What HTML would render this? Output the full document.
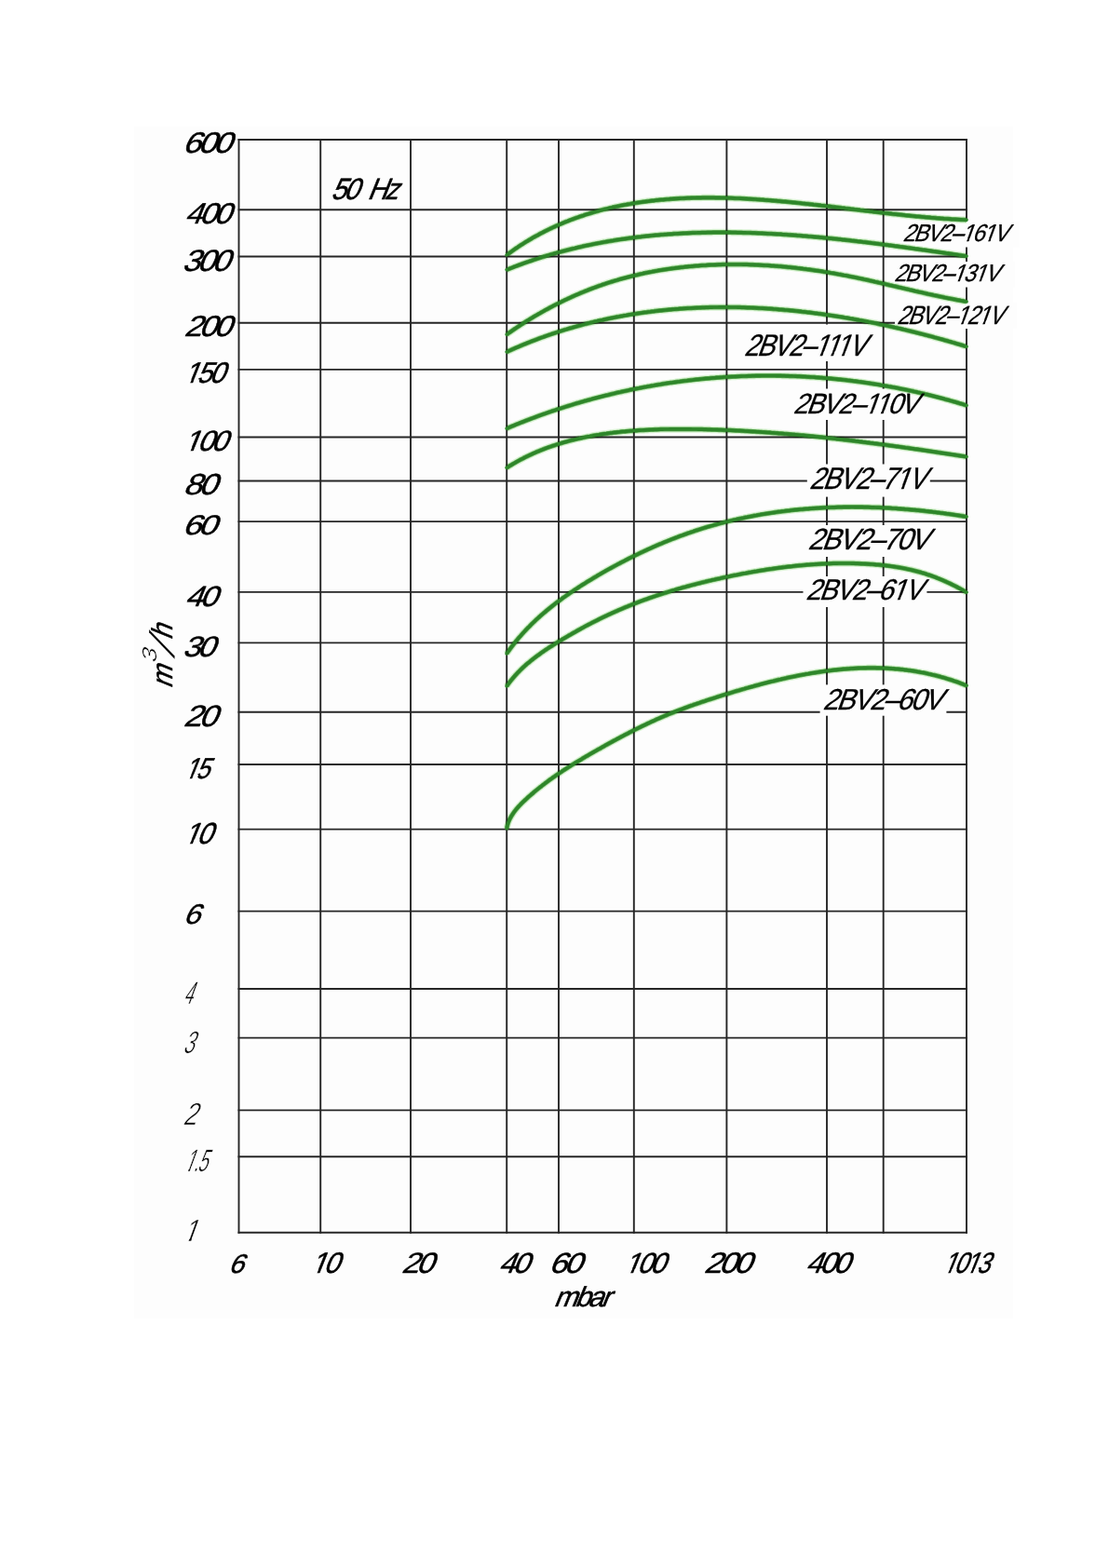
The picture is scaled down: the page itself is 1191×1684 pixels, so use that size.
<!DOCTYPE html><html><head><meta charset="utf-8"><title>2BV2 50 Hz</title><style>html,body{margin:0;padding:0;background:#fff;width:1191px;height:1684px;overflow:hidden}svg{display:block}text{font-family:"Liberation Sans",Arial,sans-serif;font-size:100px;fill:#000}</style></head><body><svg width="1191" height="1684" viewBox="0 0 1191 1684"><rect x="144" y="136" width="944" height="1280" fill="#fdfdfd"/><g stroke="#262626" stroke-width="1.9" fill="none" stroke-linecap="square"><line x1="256.50" y1="150.00" x2="256.50" y2="1323.70"/><line x1="344.20" y1="150.00" x2="344.20" y2="1323.70"/><line x1="441.00" y1="150.00" x2="441.00" y2="1323.70"/><line x1="544.20" y1="150.00" x2="544.20" y2="1323.70"/><line x1="600.00" y1="150.00" x2="600.00" y2="1323.70"/><line x1="680.80" y1="150.00" x2="680.80" y2="1323.70"/><line x1="780.40" y1="150.00" x2="780.40" y2="1323.70"/><line x1="888.00" y1="150.00" x2="888.00" y2="1323.70"/><line x1="948.70" y1="150.00" x2="948.70" y2="1323.70"/><line x1="1038.00" y1="150.00" x2="1038.00" y2="1323.70"/><line x1="256.50" y1="150.00" x2="1038.00" y2="150.00"/><line x1="256.50" y1="225.20" x2="1038.00" y2="225.20"/><line x1="256.50" y1="275.50" x2="1038.00" y2="275.50"/><line x1="256.50" y1="346.80" x2="1038.00" y2="346.80"/><line x1="256.50" y1="396.90" x2="1038.00" y2="396.90"/><line x1="256.50" y1="469.50" x2="1038.00" y2="469.50"/><line x1="256.50" y1="516.50" x2="1038.00" y2="516.50"/><line x1="256.50" y1="560.10" x2="1038.00" y2="560.10"/><line x1="256.50" y1="635.90" x2="1038.00" y2="635.90"/><line x1="256.50" y1="690.40" x2="1038.00" y2="690.40"/><line x1="256.50" y1="764.70" x2="1038.00" y2="764.70"/><line x1="256.50" y1="821.00" x2="1038.00" y2="821.00"/><line x1="256.50" y1="890.60" x2="1038.00" y2="890.60"/><line x1="256.50" y1="978.60" x2="1038.00" y2="978.60"/><line x1="256.50" y1="1062.00" x2="1038.00" y2="1062.00"/><line x1="256.50" y1="1114.60" x2="1038.00" y2="1114.60"/><line x1="256.50" y1="1192.40" x2="1038.00" y2="1192.40"/><line x1="256.50" y1="1242.20" x2="1038.00" y2="1242.20"/><line x1="256.50" y1="1323.70" x2="1038.00" y2="1323.70"/></g><g fill="#fdfdfd"><rect x="962.0" y="237.5" width="133.0" height="28.0"/><rect x="955.0" y="281.0" width="135.0" height="27.5"/><rect x="961.0" y="324.5" width="131.0" height="28.5"/><rect x="795.0" y="348.5" width="147.0" height="39.5"/><rect x="848.0" y="417.5" width="150.0" height="33.5"/><rect x="866.8" y="498.5" width="132.0" height="35.1"/><rect x="864.0" y="564.0" width="146.0" height="34.0"/><rect x="862.5" y="619.0" width="132.9" height="33.0"/><rect x="880.6" y="735.4" width="135.8" height="33.3"/></g><g fill="none" stroke="#dcf5d6" stroke-width="7.5" stroke-linecap="butt" stroke-linejoin="round" style="mix-blend-mode:multiply"><path d="M544.1,273.9L545.8,272.6 547.5,271.4 549.2,270.2 550.9,269.0 552.6,267.8 554.3,266.6 556.0,265.5 557.7,264.3 559.4,263.2 561.2,262.1 562.9,261.0 564.6,259.9 566.4,258.9 568.1,257.8 569.9,256.8 571.7,255.7 573.4,254.7 575.2,253.7 577.0,252.8 578.7,251.8 580.5,250.8 582.3,249.9 584.1,249.0 585.9,248.1 587.7,247.2 589.5,246.3 591.3,245.4 593.1,244.6 595.0,243.7 596.8,242.9 598.6,242.1 600.5,241.3 602.3,240.5 604.1,239.7 606.0,238.9 607.8,238.2 609.7,237.5 611.5,236.7 613.4,236.0 615.3,235.3 617.1,234.6 619.0,233.9 620.9,233.3 622.8,232.6 624.7,232.0 626.5,231.4 628.4,230.7 630.3,230.1 632.2,229.6 634.1,229.0 636.0,228.4 637.9,227.8 639.8,227.3 641.8,226.8 643.7,226.2 645.6,225.7 647.5,225.2 649.4,224.7 651.4,224.3 653.3,223.8 655.2,223.3 657.2,222.9 659.1,222.4 661.1,222.0 663.0,221.6 665.0,221.2 666.9,220.8 668.9,220.4 670.8,220.0 672.8,219.7 674.7,219.3 676.7,219.0 678.7,218.6 680.6,218.3 682.6,218.0 684.6,217.7 686.6,217.4 688.5,217.1 690.5,216.8 692.5,216.6 694.5,216.3 696.5,216.1 698.4,215.8 700.4,215.6 702.4,215.4 704.4,215.1 706.4,214.9 708.4,214.7 710.4,214.5 712.4,214.4 714.4,214.2 716.4,214.0 718.4,213.9 720.4,213.7 722.4,213.6 724.4,213.4 726.4,213.3 728.4,213.2 730.4,213.1 732.4,213.0 734.5,212.9 736.5,212.8 738.5,212.7 740.5,212.7 742.5,212.6 744.5,212.5 746.5,212.5 748.6,212.4 750.6,212.4 752.6,212.4 754.6,212.3 756.6,212.3 758.6,212.3 760.7,212.3 762.7,212.3 764.7,212.3 766.7,212.3 768.7,212.4 770.8,212.4 772.8,212.4 774.8,212.5 776.8,212.5 778.9,212.5 780.9,212.6 782.9,212.7 784.9,212.7 786.9,212.8 789.0,212.9 791.0,213.0 793.0,213.0 795.0,213.1 797.0,213.2 799.1,213.3 801.1,213.4 803.1,213.6 805.1,213.7 807.1,213.8 809.2,213.9 811.2,214.0 813.2,214.2 815.2,214.3 817.2,214.5 819.2,214.6 821.3,214.8 823.3,214.9 825.3,215.1 827.3,215.2 829.3,215.4 831.4,215.6 833.4,215.7 835.4,215.9 837.4,216.1 839.4,216.3 841.4,216.5 843.5,216.6 845.5,216.8 847.5,217.0 849.5,217.2 851.5,217.4 853.5,217.6 855.5,217.8 857.6,218.0 859.6,218.2 861.6,218.5 863.6,218.7 865.6,218.9 867.6,219.1 869.7,219.3 871.7,219.5 873.7,219.8 875.7,220.0 877.7,220.2 879.7,220.4 881.7,220.7 883.7,220.9 885.8,221.1 887.8,221.4 889.8,221.6 891.8,221.8 893.8,222.1 895.8,222.3 897.8,222.6 899.8,222.8 901.8,223.0 903.9,223.3 905.9,223.5 907.9,223.8 909.9,224.0 911.9,224.2 913.9,224.5 915.9,224.7 917.9,225.0 919.9,225.2 921.9,225.4 923.9,225.7 926.0,225.9 928.0,226.2 930.0,226.4 932.0,226.6 934.0,226.9 936.0,227.1 938.0,227.4 940.0,227.6 942.0,227.8 944.0,228.1 946.0,228.3 948.0,228.5 950.0,228.8 952.0,229.0 954.0,229.2 956.0,229.4 958.1,229.7 960.1,229.9 962.1,230.1 964.1,230.3 966.1,230.5 968.1,230.7 970.1,230.9 972.1,231.2 974.1,231.4 976.1,231.6 978.1,231.8 980.1,232.0 982.1,232.2 984.1,232.4 986.1,232.5 988.1,232.7 990.1,232.9 992.1,233.1 994.1,233.3 996.1,233.4 998.1,233.6 1000.1,233.8 1002.1,233.9 1004.1,234.1 1006.1,234.3 1008.1,234.4 1010.1,234.6 1012.0,234.7 1014.0,234.9 1016.0,235.0 1018.0,235.1 1020.0,235.2 1022.0,235.4 1024.0,235.5 1026.0,235.6 1028.0,235.7 1030.0,235.8 1032.0,235.9 1034.0,236.0 1036.0,236.1 1038.0,236.2"/><path d="M544.2,289.7L546.1,289.0 548.0,288.2 549.9,287.5 551.8,286.7 553.7,286.0 555.6,285.3 557.5,284.6 559.4,283.9 561.3,283.2 563.2,282.5 565.1,281.8 567.0,281.2 569.0,280.5 570.9,279.9 572.8,279.2 574.7,278.6 576.6,277.9 578.6,277.3 580.5,276.7 582.4,276.1 584.3,275.5 586.3,274.9 588.2,274.4 590.1,273.8 592.1,273.2 594.0,272.7 595.9,272.1 597.9,271.6 599.8,271.0 601.7,270.5 603.7,270.0 605.6,269.5 607.6,269.0 609.5,268.5 611.5,268.0 613.4,267.5 615.4,267.0 617.3,266.6 619.3,266.1 621.2,265.6 623.2,265.2 625.1,264.8 627.1,264.3 629.0,263.9 631.0,263.5 632.9,263.1 634.9,262.7 636.8,262.3 638.8,261.9 640.8,261.5 642.7,261.1 644.7,260.8 646.7,260.4 648.6,260.0 650.6,259.7 652.6,259.3 654.5,259.0 656.5,258.7 658.5,258.4 660.4,258.0 662.4,257.7 664.4,257.4 666.4,257.1 668.3,256.8 670.3,256.6 672.3,256.3 674.3,256.0 676.2,255.7 678.2,255.5 680.2,255.2 682.2,255.0 684.2,254.7 686.1,254.5 688.1,254.3 690.1,254.0 692.1,253.8 694.1,253.6 696.1,253.4 698.1,253.2 700.0,253.0 702.0,252.8 704.0,252.6 706.0,252.5 708.0,252.3 710.0,252.1 712.0,252.0 714.0,251.8 716.0,251.7 718.0,251.5 720.0,251.4 721.9,251.3 723.9,251.1 725.9,251.0 727.9,250.9 729.9,250.8 731.9,250.7 733.9,250.6 735.9,250.5 737.9,250.4 739.9,250.3 741.9,250.2 743.9,250.1 745.9,250.1 747.9,250.0 749.9,249.9 751.9,249.9 753.9,249.8 755.9,249.8 757.9,249.8 759.9,249.7 762.0,249.7 764.0,249.7 766.0,249.6 768.0,249.6 770.0,249.6 772.0,249.6 774.0,249.6 776.0,249.6 778.0,249.6 780.0,249.6 782.0,249.6 784.0,249.6 786.0,249.7 788.1,249.7 790.1,249.7 792.1,249.8 794.1,249.8 796.1,249.8 798.1,249.9 800.1,249.9 802.1,250.0 804.1,250.0 806.1,250.1 808.2,250.2 810.2,250.2 812.2,250.3 814.2,250.4 816.2,250.5 818.2,250.6 820.2,250.7 822.2,250.8 824.3,250.9 826.3,251.0 828.3,251.1 830.3,251.2 832.3,251.3 834.3,251.4 836.3,251.5 838.3,251.6 840.4,251.8 842.4,251.9 844.4,252.0 846.4,252.2 848.4,252.3 850.4,252.4 852.4,252.6 854.4,252.7 856.5,252.9 858.5,253.0 860.5,253.2 862.5,253.4 864.5,253.5 866.5,253.7 868.5,253.9 870.5,254.0 872.6,254.2 874.6,254.4 876.6,254.6 878.6,254.7 880.6,254.9 882.6,255.1 884.6,255.3 886.6,255.5 888.6,255.7 890.6,255.9 892.7,256.1 894.7,256.3 896.7,256.5 898.7,256.7 900.7,256.9 902.7,257.1 904.7,257.4 906.7,257.6 908.7,257.8 910.7,258.0 912.7,258.2 914.7,258.5 916.7,258.7 918.8,258.9 920.8,259.2 922.8,259.4 924.8,259.6 926.8,259.9 928.8,260.1 930.8,260.3 932.8,260.6 934.8,260.8 936.8,261.1 938.8,261.3 940.8,261.6 942.8,261.8 944.8,262.1 946.8,262.3 948.8,262.6 950.8,262.9 952.8,263.1 954.8,263.4 956.8,263.6 958.8,263.9 960.8,264.2 962.7,264.4 964.7,264.7 966.7,265.0 968.7,265.2 970.7,265.5 972.7,265.8 974.7,266.1 976.7,266.3 978.7,266.6 980.7,266.9 982.7,267.2 984.6,267.4 986.6,267.7 988.6,268.0 990.6,268.3 992.6,268.5 994.6,268.8 996.5,269.1 998.5,269.4 1000.5,269.7 1002.5,270.0 1004.5,270.2 1006.4,270.5 1008.4,270.8 1010.4,271.1 1012.4,271.4 1014.3,271.7 1016.3,272.0 1018.3,272.2 1020.3,272.5 1022.2,272.8 1024.2,273.1 1026.2,273.4 1028.1,273.7 1030.1,274.0 1032.1,274.3 1034.0,274.6 1036.0,274.8 1038.0,275.1"/><path d="M544.2,359.2L545.8,358.0 547.5,356.9 549.2,355.7 550.8,354.6 552.5,353.4 554.2,352.3 555.8,351.2 557.5,350.1 559.2,349.0 560.9,347.9 562.6,346.8 564.3,345.7 566.0,344.6 567.7,343.6 569.4,342.5 571.2,341.5 572.9,340.4 574.6,339.4 576.4,338.4 578.1,337.4 579.9,336.4 581.6,335.4 583.4,334.4 585.1,333.4 586.9,332.4 588.7,331.5 590.4,330.5 592.2,329.6 594.0,328.6 595.8,327.7 597.6,326.8 599.4,325.9 601.2,325.0 603.0,324.1 604.8,323.2 606.6,322.3 608.4,321.5 610.3,320.6 612.1,319.8 613.9,318.9 615.7,318.1 617.6,317.3 619.4,316.5 621.3,315.7 623.1,314.9 625.0,314.1 626.8,313.4 628.7,312.6 630.6,311.9 632.4,311.1 634.3,310.4 636.2,309.7 638.1,309.0 640.0,308.3 641.8,307.6 643.7,306.9 645.6,306.3 647.5,305.6 649.4,305.0 651.3,304.3 653.2,303.7 655.2,303.1 657.1,302.5 659.0,301.9 660.9,301.3 662.8,300.8 664.8,300.2 666.7,299.6 668.6,299.1 670.6,298.6 672.5,298.1 674.4,297.6 676.4,297.1 678.3,296.6 680.3,296.1 682.2,295.6 684.2,295.2 686.2,294.7 688.1,294.3 690.1,293.9 692.0,293.4 694.0,293.0 696.0,292.6 698.0,292.2 699.9,291.9 701.9,291.5 703.9,291.1 705.9,290.8 707.9,290.4 709.8,290.1 711.8,289.8 713.8,289.5 715.8,289.2 717.8,288.9 719.8,288.6 721.8,288.3 723.8,288.1 725.8,287.8 727.8,287.6 729.8,287.3 731.8,287.1 733.8,286.9 735.8,286.6 737.8,286.4 739.8,286.2 741.8,286.1 743.8,285.9 745.8,285.7 747.8,285.5 749.8,285.4 751.9,285.2 753.9,285.1 755.9,285.0 757.9,284.9 759.9,284.7 761.9,284.6 763.9,284.5 765.9,284.5 768.0,284.4 770.0,284.3 772.0,284.2 774.0,284.2 776.0,284.1 778.0,284.1 780.1,284.0 782.1,284.0 784.1,284.0 786.1,284.0 788.1,284.0 790.1,284.0 792.2,284.0 794.2,284.0 796.2,284.0 798.2,284.1 800.2,284.1 802.2,284.1 804.2,284.2 806.3,284.3 808.3,284.3 810.3,284.4 812.3,284.5 814.3,284.6 816.3,284.7 818.3,284.8 820.3,284.9 822.4,285.0 824.4,285.1 826.4,285.2 828.4,285.4 830.4,285.5 832.4,285.7 834.4,285.8 836.4,286.0 838.4,286.1 840.4,286.3 842.4,286.5 844.4,286.7 846.4,286.9 848.5,287.1 850.5,287.3 852.5,287.5 854.5,287.7 856.5,288.0 858.5,288.2 860.5,288.4 862.5,288.7 864.5,288.9 866.5,289.2 868.5,289.4 870.4,289.7 872.4,290.0 874.4,290.3 876.4,290.6 878.4,290.8 880.4,291.1 882.4,291.4 884.4,291.8 886.4,292.1 888.4,292.4 890.4,292.7 892.3,293.1 894.3,293.4 896.3,293.7 898.3,294.1 900.3,294.5 902.3,294.8 904.2,295.2 906.2,295.6 908.2,295.9 910.2,296.3 912.1,296.7 914.1,297.1 916.1,297.5 918.1,297.9 920.0,298.3 922.0,298.7 924.0,299.1 925.9,299.5 927.9,300.0 929.9,300.4 931.8,300.8 933.8,301.3 935.8,301.7 937.7,302.1 939.7,302.6 941.7,303.0 943.6,303.5 945.6,303.9 947.5,304.4 949.5,304.8 951.5,305.3 953.4,305.7 955.4,306.2 957.3,306.6 959.3,307.1 961.3,307.5 963.2,308.0 965.2,308.5 967.1,308.9 969.1,309.4 971.1,309.8 973.0,310.3 975.0,310.7 976.9,311.2 978.9,311.6 980.9,312.1 982.8,312.6 984.8,313.0 986.8,313.5 988.7,313.9 990.7,314.3 992.6,314.8 994.6,315.2 996.6,315.7 998.5,316.1 1000.5,316.5 1002.5,317.0 1004.4,317.4 1006.4,317.8 1008.4,318.2 1010.3,318.6 1012.3,319.0 1014.3,319.5 1016.2,319.9 1018.2,320.3 1020.2,320.6 1022.2,321.0 1024.1,321.4 1026.1,321.8 1028.1,322.2 1030.1,322.5 1032.0,322.9 1034.0,323.2 1036.0,323.6 1038.0,323.9"/><path d="M544.2,378.0L546.0,377.1 547.9,376.3 549.7,375.4 551.6,374.6 553.4,373.8 555.3,373.0 557.2,372.2 559.0,371.4 560.9,370.6 562.8,369.8 564.7,369.1 566.5,368.3 568.4,367.6 570.3,366.8 572.2,366.1 574.1,365.4 576.0,364.7 577.9,363.9 579.8,363.2 581.7,362.5 583.5,361.9 585.4,361.2 587.4,360.5 589.3,359.8 591.2,359.2 593.1,358.5 595.0,357.9 596.9,357.3 598.8,356.7 600.7,356.0 602.6,355.4 604.6,354.8 606.5,354.2 608.4,353.7 610.3,353.1 612.2,352.5 614.2,352.0 616.1,351.4 618.0,350.9 620.0,350.3 621.9,349.8 623.8,349.3 625.8,348.7 627.7,348.2 629.7,347.7 631.6,347.2 633.5,346.8 635.5,346.3 637.4,345.8 639.4,345.3 641.3,344.9 643.3,344.4 645.2,344.0 647.2,343.6 649.1,343.1 651.1,342.7 653.1,342.3 655.0,341.9 657.0,341.5 658.9,341.1 660.9,340.7 662.9,340.3 664.8,340.0 666.8,339.6 668.8,339.3 670.8,338.9 672.7,338.6 674.7,338.2 676.7,337.9 678.6,337.6 680.6,337.3 682.6,337.0 684.6,336.7 686.6,336.4 688.5,336.1 690.5,335.8 692.5,335.5 694.5,335.3 696.5,335.0 698.5,334.8 700.4,334.5 702.4,334.3 704.4,334.0 706.4,333.8 708.4,333.6 710.4,333.4 712.4,333.2 714.4,333.0 716.4,332.8 718.4,332.6 720.4,332.4 722.4,332.2 724.4,332.1 726.4,331.9 728.4,331.8 730.4,331.6 732.4,331.5 734.4,331.3 736.4,331.2 738.4,331.1 740.4,331.0 742.4,330.9 744.4,330.8 746.4,330.7 748.4,330.6 750.4,330.5 752.4,330.4 754.4,330.3 756.4,330.3 758.4,330.2 760.4,330.2 762.4,330.1 764.5,330.1 766.5,330.0 768.5,330.0 770.5,330.0 772.5,329.9 774.5,329.9 776.5,329.9 778.5,329.9 780.5,329.9 782.6,329.9 784.6,330.0 786.6,330.0 788.6,330.0 790.6,330.0 792.6,330.1 794.6,330.1 796.6,330.2 798.7,330.2 800.7,330.3 802.7,330.4 804.7,330.4 806.7,330.5 808.7,330.6 810.7,330.7 812.8,330.8 814.8,330.9 816.8,331.0 818.8,331.1 820.8,331.2 822.8,331.3 824.8,331.5 826.9,331.6 828.9,331.7 830.9,331.9 832.9,332.0 834.9,332.2 836.9,332.4 838.9,332.5 840.9,332.7 843.0,332.9 845.0,333.0 847.0,333.2 849.0,333.4 851.0,333.6 853.0,333.8 855.0,334.0 857.0,334.2 859.0,334.4 861.1,334.7 863.1,334.9 865.1,335.1 867.1,335.4 869.1,335.6 871.1,335.8 873.1,336.1 875.1,336.4 877.1,336.6 879.1,336.9 881.1,337.1 883.1,337.4 885.1,337.7 887.1,338.0 889.1,338.3 891.1,338.6 893.1,338.9 895.1,339.2 897.1,339.5 899.1,339.8 901.1,340.1 903.1,340.4 905.1,340.7 907.1,341.1 909.1,341.4 911.1,341.7 913.1,342.1 915.1,342.4 917.1,342.8 919.1,343.1 921.0,343.5 923.0,343.9 925.0,344.2 927.0,344.6 929.0,345.0 931.0,345.4 933.0,345.8 934.9,346.1 936.9,346.5 938.9,346.9 940.9,347.3 942.8,347.7 944.8,348.2 946.8,348.6 948.8,349.0 950.7,349.4 952.7,349.8 954.7,350.3 956.7,350.7 958.6,351.1 960.6,351.6 962.6,352.0 964.5,352.5 966.5,352.9 968.4,353.4 970.4,353.9 972.4,354.3 974.3,354.8 976.3,355.3 978.2,355.7 980.2,356.2 982.1,356.7 984.1,357.2 986.0,357.7 988.0,358.2 989.9,358.7 991.8,359.2 993.8,359.7 995.7,360.2 997.7,360.7 999.6,361.2 1001.5,361.7 1003.5,362.3 1005.4,362.8 1007.3,363.3 1009.3,363.9 1011.2,364.4 1013.1,364.9 1015.0,365.5 1017.0,366.0 1018.9,366.6 1020.8,367.1 1022.7,367.7 1024.6,368.2 1026.5,368.8 1028.4,369.4 1030.3,369.9 1032.3,370.5 1034.2,371.1 1036.1,371.7 1038.0,372.2"/><path d="M544.2,460.2L546.0,459.4 547.9,458.6 549.7,457.8 551.6,457.1 553.5,456.3 555.3,455.5 557.2,454.8 559.1,454.0 560.9,453.3 562.8,452.6 564.7,451.8 566.5,451.1 568.4,450.4 570.3,449.7 572.2,449.0 574.1,448.3 576.0,447.6 577.8,446.9 579.7,446.2 581.6,445.5 583.5,444.8 585.4,444.2 587.3,443.5 589.2,442.8 591.1,442.2 593.0,441.5 594.9,440.9 596.8,440.3 598.7,439.6 600.6,439.0 602.5,438.4 604.5,437.8 606.4,437.2 608.3,436.6 610.2,436.0 612.1,435.4 614.1,434.8 616.0,434.2 617.9,433.6 619.8,433.0 621.8,432.5 623.7,431.9 625.6,431.4 627.5,430.8 629.5,430.3 631.4,429.7 633.4,429.2 635.3,428.7 637.2,428.1 639.2,427.6 641.1,427.1 643.1,426.6 645.0,426.1 647.0,425.6 648.9,425.1 650.9,424.6 652.8,424.2 654.8,423.7 656.7,423.2 658.7,422.8 660.6,422.3 662.6,421.8 664.6,421.4 666.5,421.0 668.5,420.5 670.4,420.1 672.4,419.7 674.4,419.3 676.3,418.8 678.3,418.4 680.3,418.0 682.2,417.6 684.2,417.2 686.2,416.9 688.2,416.5 690.1,416.1 692.1,415.7 694.1,415.4 696.1,415.0 698.1,414.7 700.0,414.3 702.0,414.0 704.0,413.6 706.0,413.3 708.0,413.0 709.9,412.7 711.9,412.3 713.9,412.0 715.9,411.7 717.9,411.4 719.9,411.1 721.9,410.9 723.9,410.6 725.9,410.3 727.9,410.0 729.8,409.8 731.8,409.5 733.8,409.2 735.8,409.0 737.8,408.8 739.8,408.5 741.8,408.3 743.8,408.1 745.8,407.8 747.8,407.6 749.8,407.4 751.8,407.2 753.8,407.0 755.8,406.8 757.8,406.6 759.8,406.4 761.8,406.3 763.8,406.1 765.8,405.9 767.8,405.8 769.8,405.6 771.8,405.5 773.9,405.3 775.9,405.2 777.9,405.0 779.9,404.9 781.9,404.8 783.9,404.7 785.9,404.6 787.9,404.5 789.9,404.4 791.9,404.3 793.9,404.2 795.9,404.1 797.9,404.0 800.0,404.0 802.0,403.9 804.0,403.8 806.0,403.8 808.0,403.7 810.0,403.7 812.0,403.6 814.0,403.6 816.0,403.6 818.1,403.5 820.1,403.5 822.1,403.5 824.1,403.5 826.1,403.5 828.1,403.5 830.1,403.5 832.1,403.5 834.1,403.6 836.2,403.6 838.2,403.6 840.2,403.7 842.2,403.7 844.2,403.8 846.2,403.8 848.2,403.9 850.2,403.9 852.2,404.0 854.2,404.1 856.3,404.2 858.3,404.2 860.3,404.3 862.3,404.4 864.3,404.5 866.3,404.7 868.3,404.8 870.3,404.9 872.3,405.0 874.3,405.1 876.3,405.3 878.3,405.4 880.3,405.6 882.3,405.7 884.3,405.9 886.3,406.1 888.4,406.2 890.4,406.4 892.4,406.6 894.4,406.8 896.4,407.0 898.4,407.2 900.4,407.4 902.4,407.6 904.4,407.8 906.4,408.0 908.4,408.2 910.4,408.5 912.3,408.7 914.3,408.9 916.3,409.2 918.3,409.4 920.3,409.7 922.3,410.0 924.3,410.2 926.3,410.5 928.3,410.8 930.3,411.1 932.3,411.4 934.3,411.7 936.2,412.0 938.2,412.3 940.2,412.6 942.2,412.9 944.2,413.2 946.2,413.6 948.2,413.9 950.1,414.3 952.1,414.6 954.1,415.0 956.1,415.3 958.0,415.7 960.0,416.0 962.0,416.4 964.0,416.8 965.9,417.2 967.9,417.6 969.9,418.0 971.9,418.4 973.8,418.8 975.8,419.2 977.7,419.6 979.7,420.0 981.7,420.5 983.6,420.9 985.6,421.4 987.6,421.8 989.5,422.3 991.5,422.7 993.4,423.2 995.4,423.6 997.3,424.1 999.3,424.6 1001.2,425.1 1003.2,425.6 1005.1,426.1 1007.1,426.6 1009.0,427.1 1011.0,427.6 1012.9,428.1 1014.8,428.7 1016.8,429.2 1018.7,429.7 1020.7,430.3 1022.6,430.8 1024.5,431.4 1026.5,431.9 1028.4,432.5 1030.3,433.1 1032.2,433.6 1034.2,434.2 1036.1,434.8 1038.0,435.4"/><path d="M544.1,502.4L545.9,501.3 547.6,500.2 549.4,499.2 551.1,498.1 552.9,497.1 554.6,496.1 556.4,495.1 558.2,494.1 560.0,493.2 561.8,492.3 563.6,491.3 565.4,490.4 567.2,489.6 569.0,488.7 570.8,487.9 572.6,487.0 574.5,486.2 576.3,485.4 578.1,484.7 580.0,483.9 581.8,483.2 583.7,482.4 585.6,481.7 587.4,481.0 589.3,480.3 591.2,479.7 593.1,479.0 595.0,478.4 596.9,477.8 598.7,477.2 600.6,476.6 602.6,476.0 604.5,475.4 606.4,474.9 608.3,474.4 610.2,473.8 612.1,473.3 614.1,472.8 616.0,472.4 617.9,471.9 619.9,471.4 621.8,471.0 623.8,470.6 625.7,470.1 627.7,469.7 629.6,469.3 631.6,468.9 633.5,468.6 635.5,468.2 637.5,467.8 639.4,467.5 641.4,467.2 643.4,466.9 645.4,466.5 647.3,466.2 649.3,465.9 651.3,465.7 653.3,465.4 655.3,465.1 657.3,464.9 659.2,464.6 661.2,464.4 663.2,464.2 665.2,464.0 667.2,463.7 669.2,463.5 671.2,463.4 673.2,463.2 675.2,463.0 677.2,462.8 679.2,462.7 681.3,462.5 683.3,462.4 685.3,462.2 687.3,462.1 689.3,462.0 691.3,461.9 693.3,461.8 695.3,461.7 697.4,461.6 699.4,461.5 701.4,461.4 703.4,461.3 705.4,461.3 707.5,461.2 709.5,461.1 711.5,461.1 713.5,461.0 715.5,461.0 717.6,461.0 719.6,460.9 721.6,460.9 723.6,460.9 725.7,460.9 727.7,460.9 729.7,460.9 731.7,460.9 733.8,460.9 735.8,460.9 737.8,460.9 739.8,460.9 741.9,460.9 743.9,461.0 745.9,461.0 747.9,461.0 750.0,461.1 752.0,461.1 754.0,461.1 756.0,461.2 758.1,461.2 760.1,461.3 762.1,461.3 764.1,461.4 766.1,461.5 768.1,461.5 770.2,461.6 772.2,461.7 774.2,461.7 776.2,461.8 778.2,461.9 780.2,462.0 782.3,462.1 784.3,462.1 786.3,462.2 788.3,462.3 790.3,462.4 792.3,462.5 794.3,462.6 796.4,462.7 798.4,462.8 800.4,463.0 802.4,463.1 804.4,463.2 806.4,463.3 808.4,463.4 810.4,463.5 812.4,463.7 814.5,463.8 816.5,463.9 818.5,464.1 820.5,464.2 822.5,464.3 824.5,464.5 826.5,464.6 828.5,464.8 830.5,464.9 832.5,465.1 834.5,465.2 836.5,465.4 838.5,465.5 840.5,465.7 842.5,465.9 844.5,466.0 846.5,466.2 848.5,466.4 850.5,466.6 852.5,466.7 854.5,466.9 856.5,467.1 858.6,467.3 860.6,467.5 862.6,467.6 864.6,467.8 866.6,468.0 868.6,468.2 870.6,468.4 872.6,468.6 874.6,468.8 876.5,469.0 878.5,469.2 880.5,469.4 882.5,469.6 884.5,469.8 886.5,470.0 888.5,470.3 890.5,470.5 892.5,470.7 894.5,470.9 896.5,471.1 898.5,471.4 900.5,471.6 902.5,471.8 904.5,472.0 906.5,472.3 908.5,472.5 910.5,472.7 912.5,473.0 914.5,473.2 916.5,473.4 918.5,473.7 920.5,473.9 922.5,474.2 924.5,474.4 926.4,474.7 928.4,474.9 930.4,475.2 932.4,475.4 934.4,475.7 936.4,475.9 938.4,476.2 940.4,476.4 942.4,476.7 944.4,477.0 946.4,477.2 948.4,477.5 950.4,477.7 952.4,478.0 954.3,478.3 956.3,478.6 958.3,478.8 960.3,479.1 962.3,479.4 964.3,479.6 966.3,479.9 968.3,480.2 970.3,480.5 972.3,480.8 974.3,481.0 976.3,481.3 978.2,481.6 980.2,481.9 982.2,482.2 984.2,482.4 986.2,482.7 988.2,483.0 990.2,483.3 992.2,483.6 994.2,483.9 996.2,484.2 998.2,484.5 1000.2,484.8 1002.1,485.1 1004.1,485.4 1006.1,485.7 1008.1,486.0 1010.1,486.3 1012.1,486.6 1014.1,486.9 1016.1,487.2 1018.1,487.5 1020.1,487.8 1022.1,488.1 1024.1,488.4 1026.0,488.7 1028.0,489.0 1030.0,489.3 1032.0,489.6 1034.0,489.9 1036.0,490.2 1038.0,490.5"/><path d="M544.2,702.0L545.3,700.3 546.5,698.7 547.7,697.0 548.9,695.4 550.1,693.8 551.4,692.2 552.6,690.6 553.9,689.0 555.2,687.5 556.4,685.9 557.7,684.4 559.1,682.9 560.4,681.4 561.7,679.9 563.1,678.4 564.4,677.0 565.8,675.5 567.2,674.1 568.6,672.7 570.0,671.2 571.4,669.8 572.8,668.5 574.3,667.1 575.7,665.7 577.2,664.4 578.7,663.0 580.2,661.7 581.6,660.4 583.1,659.1 584.7,657.8 586.2,656.5 587.7,655.2 589.2,654.0 590.8,652.7 592.3,651.5 593.9,650.2 595.5,649.0 597.1,647.8 598.7,646.6 600.3,645.4 601.9,644.2 603.5,643.0 605.1,641.8 606.7,640.7 608.4,639.5 610.0,638.4 611.6,637.2 613.3,636.1 615.0,635.0 616.6,633.9 618.3,632.8 620.0,631.7 621.6,630.6 623.3,629.5 625.0,628.4 626.7,627.3 628.4,626.3 630.1,625.2 631.9,624.1 633.6,623.1 635.3,622.1 637.0,621.0 638.7,620.0 640.5,619.0 642.2,617.9 644.0,616.9 645.7,615.9 647.4,614.9 649.2,613.9 650.9,612.9 652.7,611.9 654.5,610.9 656.2,610.0 658.0,609.0 659.8,608.0 661.5,607.1 663.3,606.1 665.1,605.2 666.9,604.2 668.7,603.3 670.5,602.4 672.3,601.4 674.1,600.5 675.9,599.6 677.7,598.7 679.5,597.8 681.3,596.9 683.1,596.0 684.9,595.2 686.7,594.3 688.5,593.4 690.4,592.6 692.2,591.7 694.0,590.9 695.8,590.0 697.7,589.2 699.5,588.4 701.4,587.5 703.2,586.7 705.1,585.9 706.9,585.1 708.8,584.3 710.6,583.6 712.5,582.8 714.3,582.0 716.2,581.3 718.1,580.5 719.9,579.8 721.8,579.0 723.7,578.3 725.6,577.6 727.4,576.9 729.3,576.1 731.2,575.4 733.1,574.8 735.0,574.1 736.9,573.4 738.8,572.7 740.7,572.1 742.6,571.4 744.5,570.8 746.4,570.1 748.3,569.5 750.2,568.9 752.1,568.3 754.0,567.7 755.9,567.1 757.8,566.5 759.7,565.9 761.7,565.4 763.6,564.8 765.5,564.3 767.4,563.7 769.4,563.2 771.3,562.7 773.2,562.2 775.2,561.6 777.1,561.1 779.1,560.6 781.0,560.2 782.9,559.7 784.9,559.2 786.8,558.8 788.8,558.3 790.7,557.9 792.7,557.4 794.6,557.0 796.6,556.6 798.5,556.2 800.5,555.7 802.5,555.4 804.4,555.0 806.4,554.6 808.4,554.2 810.3,553.8 812.3,553.5 814.3,553.1 816.2,552.8 818.2,552.4 820.2,552.1 822.2,551.8 824.1,551.5 826.1,551.2 828.1,550.9 830.1,550.6 832.1,550.3 834.0,550.0 836.0,549.7 838.0,549.5 840.0,549.2 842.0,549.0 844.0,548.7 846.0,548.5 847.9,548.3 849.9,548.0 851.9,547.8 853.9,547.6 855.9,547.4 857.9,547.2 859.9,547.0 861.9,546.9 863.9,546.7 865.9,546.5 867.9,546.4 869.9,546.2 871.9,546.1 873.9,545.9 875.9,545.8 877.9,545.7 879.9,545.6 881.9,545.4 883.9,545.3 885.9,545.2 887.9,545.2 889.9,545.1 892.0,545.0 894.0,544.9 896.0,544.9 898.0,544.8 900.0,544.7 902.0,544.7 904.0,544.7 906.0,544.6 908.0,544.6 910.0,544.6 912.0,544.6 914.1,544.5 916.1,544.5 918.1,544.6 920.1,544.6 922.1,544.6 924.1,544.6 926.1,544.6 928.1,544.7 930.1,544.7 932.1,544.7 934.2,544.8 936.2,544.9 938.2,544.9 940.2,545.0 942.2,545.1 944.2,545.1 946.2,545.2 948.2,545.3 950.2,545.4 952.2,545.5 954.3,545.6 956.3,545.7 958.3,545.9 960.3,546.0 962.3,546.1 964.3,546.3 966.3,546.4 968.3,546.6 970.3,546.7 972.3,546.9 974.3,547.0 976.3,547.2 978.3,547.4 980.3,547.6 982.3,547.7 984.3,547.9 986.3,548.1 988.3,548.3 990.3,548.5 992.3,548.7 994.3,549.0 996.3,549.2 998.3,549.4 1000.3,549.6 1002.3,549.9 1004.3,550.1 1006.3,550.4 1008.3,550.6 1010.3,550.9 1012.3,551.1 1014.2,551.4 1016.2,551.7 1018.2,551.9 1020.2,552.2 1022.2,552.5 1024.2,552.8 1026.1,553.1 1028.1,553.4 1030.1,553.7 1032.1,554.0 1034.0,554.3 1036.0,554.6 1038.0,554.9"/><path d="M544.2,736.9L545.4,735.2 546.6,733.6 547.8,732.0 549.1,730.4 550.4,728.8 551.7,727.3 553.0,725.8 554.4,724.3 555.7,722.8 557.1,721.4 558.5,720.0 559.9,718.6 561.4,717.2 562.8,715.9 564.3,714.5 565.8,713.2 567.3,711.9 568.9,710.7 570.4,709.4 571.9,708.2 573.5,706.9 575.1,705.7 576.7,704.5 578.3,703.4 579.9,702.2 581.5,701.0 583.2,699.9 584.8,698.8 586.5,697.6 588.2,696.5 589.8,695.4 591.5,694.4 593.2,693.3 594.9,692.2 596.6,691.1 598.3,690.1 600.1,689.0 601.8,688.0 603.5,686.9 605.2,685.9 607.0,684.8 608.7,683.8 610.4,682.8 612.2,681.8 613.9,680.8 615.7,679.8 617.5,678.8 619.2,677.8 621.0,676.8 622.8,675.8 624.5,674.8 626.3,673.9 628.1,672.9 629.9,671.9 631.7,671.0 633.5,670.1 635.3,669.1 637.1,668.2 638.9,667.3 640.7,666.4 642.5,665.5 644.3,664.6 646.1,663.7 647.9,662.8 649.8,661.9 651.6,661.1 653.4,660.2 655.2,659.4 657.1,658.5 658.9,657.7 660.8,656.9 662.6,656.1 664.4,655.3 666.3,654.5 668.1,653.7 670.0,652.9 671.8,652.1 673.7,651.4 675.6,650.6 677.4,649.9 679.3,649.1 681.1,648.4 683.0,647.7 684.9,646.9 686.8,646.2 688.6,645.5 690.5,644.8 692.4,644.1 694.3,643.5 696.1,642.8 698.0,642.1 699.9,641.5 701.8,640.8 703.7,640.2 705.6,639.5 707.5,638.9 709.4,638.3 711.3,637.7 713.2,637.1 715.1,636.5 717.0,635.9 718.9,635.3 720.8,634.7 722.7,634.1 724.7,633.6 726.6,633.0 728.5,632.4 730.4,631.9 732.3,631.3 734.3,630.8 736.2,630.3 738.1,629.7 740.1,629.2 742.0,628.7 743.9,628.2 745.9,627.7 747.8,627.2 749.7,626.7 751.7,626.2 753.6,625.7 755.6,625.2 757.5,624.8 759.5,624.3 761.4,623.8 763.4,623.4 765.3,622.9 767.3,622.5 769.2,622.0 771.2,621.6 773.2,621.2 775.1,620.7 777.1,620.3 779.1,619.9 781.0,619.5 783.0,619.1 785.0,618.6 786.9,618.2 788.9,617.8 790.9,617.5 792.9,617.1 794.8,616.7 796.8,616.3 798.8,615.9 800.8,615.6 802.8,615.2 804.8,614.8 806.7,614.5 808.7,614.1 810.7,613.8 812.7,613.5 814.7,613.1 816.7,612.8 818.7,612.5 820.7,612.2 822.7,611.8 824.7,611.5 826.7,611.2 828.7,611.0 830.7,610.7 832.7,610.4 834.7,610.1 836.7,609.8 838.7,609.6 840.7,609.3 842.7,609.1 844.7,608.8 846.7,608.6 848.7,608.4 850.7,608.2 852.7,607.9 854.7,607.7 856.7,607.5 858.7,607.3 860.7,607.2 862.7,607.0 864.7,606.8 866.7,606.6 868.7,606.5 870.8,606.3 872.8,606.2 874.8,606.1 876.8,605.9 878.8,605.8 880.8,605.7 882.8,605.6 884.8,605.5 886.8,605.4 888.8,605.3 890.8,605.3 892.9,605.2 894.9,605.1 896.9,605.1 898.9,605.1 900.9,605.0 902.9,605.0 904.9,605.0 906.9,605.0 908.9,605.0 910.9,605.0 912.9,605.0 914.9,605.1 916.9,605.1 918.9,605.2 920.9,605.2 923.0,605.3 925.0,605.4 927.0,605.5 929.0,605.6 931.0,605.7 933.0,605.8 935.0,605.9 936.9,606.0 938.9,606.2 940.9,606.4 942.9,606.5 944.9,606.7 946.9,606.9 948.9,607.1 950.9,607.3 952.9,607.6 954.8,607.8 956.8,608.1 958.8,608.4 960.8,608.7 962.7,609.0 964.7,609.3 966.7,609.6 968.6,610.0 970.6,610.4 972.6,610.8 974.5,611.2 976.5,611.6 978.4,612.0 980.3,612.5 982.3,613.0 984.2,613.5 986.1,614.0 988.1,614.5 990.0,615.1 991.9,615.6 993.8,616.2 995.7,616.9 997.6,617.5 999.5,618.1 1001.4,618.8 1003.3,619.5 1005.2,620.2 1007.0,621.0 1008.9,621.7 1010.8,622.5 1012.6,623.3 1014.5,624.1 1016.3,624.9 1018.2,625.8 1020.0,626.6 1021.8,627.5 1023.7,628.4 1025.5,629.3 1027.3,630.2 1029.1,631.2 1030.9,632.1 1032.7,633.1 1034.5,634.1 1036.2,635.1 1038.0,636.1"/><path d="M544.2,889.8L544.6,887.8 545.1,885.8 545.7,883.9 546.4,882.0 547.2,880.2 548.1,878.5 549.0,876.8 550.1,875.1 551.2,873.4 552.3,871.8 553.5,870.3 554.8,868.7 556.1,867.2 557.4,865.7 558.8,864.3 560.2,862.8 561.6,861.4 563.1,860.0 564.6,858.7 566.0,857.3 567.5,855.9 569.0,854.6 570.5,853.3 572.1,852.0 573.6,850.7 575.1,849.4 576.7,848.1 578.2,846.9 579.8,845.6 581.4,844.4 583.0,843.1 584.6,841.9 586.1,840.7 587.8,839.5 589.4,838.3 591.0,837.1 592.6,836.0 594.2,834.8 595.9,833.7 597.5,832.5 599.2,831.4 600.8,830.3 602.5,829.2 604.2,828.0 605.9,826.9 607.5,825.9 609.2,824.8 610.9,823.7 612.6,822.6 614.3,821.5 616.0,820.5 617.7,819.4 619.4,818.4 621.2,817.3 622.9,816.3 624.6,815.3 626.3,814.2 628.1,813.2 629.8,812.2 631.6,811.2 633.3,810.2 635.0,809.2 636.8,808.1 638.5,807.1 640.3,806.1 642.0,805.1 643.8,804.2 645.6,803.2 647.3,802.2 649.1,801.2 650.8,800.2 652.6,799.2 654.4,798.2 656.1,797.3 657.9,796.3 659.7,795.3 661.5,794.4 663.2,793.4 665.0,792.5 666.8,791.5 668.6,790.6 670.4,789.6 672.2,788.7 674.0,787.8 675.7,786.8 677.5,785.9 679.3,785.0 681.1,784.1 682.9,783.2 684.7,782.3 686.5,781.4 688.4,780.5 690.2,779.6 692.0,778.8 693.8,777.9 695.6,777.0 697.4,776.2 699.3,775.3 701.1,774.5 702.9,773.7 704.7,772.8 706.6,772.0 708.4,771.2 710.2,770.4 712.1,769.6 713.9,768.8 715.8,768.1 717.6,767.3 719.5,766.5 721.3,765.8 723.2,765.1 725.0,764.3 726.9,763.6 728.7,762.9 730.6,762.2 732.5,761.5 734.3,760.8 736.2,760.1 738.1,759.4 740.0,758.7 741.8,758.0 743.7,757.4 745.6,756.7 747.5,756.1 749.4,755.4 751.3,754.8 753.2,754.1 755.1,753.5 757.0,752.9 758.9,752.2 760.8,751.6 762.7,751.0 764.6,750.4 766.5,749.8 768.4,749.2 770.3,748.5 772.2,747.9 774.1,747.3 776.0,746.7 778.0,746.1 779.9,745.5 781.8,745.0 783.7,744.4 785.7,743.8 787.6,743.2 789.5,742.6 791.5,742.0 793.4,741.5 795.4,740.9 797.3,740.3 799.2,739.8 801.2,739.2 803.1,738.7 805.1,738.1 807.0,737.6 809.0,737.1 810.9,736.5 812.9,736.0 814.8,735.5 816.8,734.9 818.8,734.4 820.7,733.9 822.7,733.4 824.6,732.9 826.6,732.4 828.6,731.9 830.5,731.5 832.5,731.0 834.5,730.5 836.4,730.0 838.4,729.6 840.4,729.1 842.4,728.7 844.3,728.3 846.3,727.8 848.3,727.4 850.3,727.0 852.2,726.6 854.2,726.2 856.2,725.8 858.2,725.4 860.2,725.0 862.2,724.6 864.1,724.3 866.1,723.9 868.1,723.6 870.1,723.2 872.1,722.9 874.1,722.6 876.1,722.3 878.0,722.0 880.0,721.7 882.0,721.4 884.0,721.1 886.0,720.8 888.0,720.5 890.0,720.3 892.0,720.1 894.0,719.8 896.0,719.6 898.0,719.4 899.9,719.2 901.9,719.0 903.9,718.8 905.9,718.6 907.9,718.5 909.9,718.3 911.9,718.2 913.9,718.0 915.9,717.9 917.9,717.8 919.9,717.7 921.9,717.6 923.9,717.5 925.8,717.5 927.8,717.4 929.8,717.4 931.8,717.3 933.8,717.3 935.8,717.3 937.8,717.3 939.8,717.3 941.8,717.4 943.8,717.4 945.7,717.5 947.7,717.5 949.7,717.6 951.7,717.7 953.7,717.8 955.7,717.9 957.7,718.1 959.6,718.2 961.6,718.4 963.6,718.5 965.6,718.7 967.6,718.9 969.6,719.1 971.5,719.4 973.5,719.6 975.5,719.9 977.5,720.1 979.4,720.4 981.4,720.7 983.4,721.0 985.3,721.4 987.3,721.7 989.3,722.1 991.3,722.4 993.2,722.8 995.2,723.2 997.1,723.7 999.1,724.1 1001.1,724.6 1003.0,725.0 1005.0,725.5 1006.9,726.0 1008.9,726.5 1010.9,727.1 1012.8,727.6 1014.8,728.2 1016.7,728.8 1018.6,729.4 1020.6,730.0 1022.5,730.6 1024.5,731.3 1026.4,731.9 1028.4,732.6 1030.3,733.3 1032.2,734.1 1034.2,734.8 1036.1,735.6 1038.0,736.3"/></g><g fill="none" stroke="#7cbb72" stroke-width="5.0" stroke-linecap="butt" stroke-linejoin="round" style="mix-blend-mode:multiply"><path d="M544.1,273.9L545.8,272.6 547.5,271.4 549.2,270.2 550.9,269.0 552.6,267.8 554.3,266.6 556.0,265.5 557.7,264.3 559.4,263.2 561.2,262.1 562.9,261.0 564.6,259.9 566.4,258.9 568.1,257.8 569.9,256.8 571.7,255.7 573.4,254.7 575.2,253.7 577.0,252.8 578.7,251.8 580.5,250.8 582.3,249.9 584.1,249.0 585.9,248.1 587.7,247.2 589.5,246.3 591.3,245.4 593.1,244.6 595.0,243.7 596.8,242.9 598.6,242.1 600.5,241.3 602.3,240.5 604.1,239.7 606.0,238.9 607.8,238.2 609.7,237.5 611.5,236.7 613.4,236.0 615.3,235.3 617.1,234.6 619.0,233.9 620.9,233.3 622.8,232.6 624.7,232.0 626.5,231.4 628.4,230.7 630.3,230.1 632.2,229.6 634.1,229.0 636.0,228.4 637.9,227.8 639.8,227.3 641.8,226.8 643.7,226.2 645.6,225.7 647.5,225.2 649.4,224.7 651.4,224.3 653.3,223.8 655.2,223.3 657.2,222.9 659.1,222.4 661.1,222.0 663.0,221.6 665.0,221.2 666.9,220.8 668.9,220.4 670.8,220.0 672.8,219.7 674.7,219.3 676.7,219.0 678.7,218.6 680.6,218.3 682.6,218.0 684.6,217.7 686.6,217.4 688.5,217.1 690.5,216.8 692.5,216.6 694.5,216.3 696.5,216.1 698.4,215.8 700.4,215.6 702.4,215.4 704.4,215.1 706.4,214.9 708.4,214.7 710.4,214.5 712.4,214.4 714.4,214.2 716.4,214.0 718.4,213.9 720.4,213.7 722.4,213.6 724.4,213.4 726.4,213.3 728.4,213.2 730.4,213.1 732.4,213.0 734.5,212.9 736.5,212.8 738.5,212.7 740.5,212.7 742.5,212.6 744.5,212.5 746.5,212.5 748.6,212.4 750.6,212.4 752.6,212.4 754.6,212.3 756.6,212.3 758.6,212.3 760.7,212.3 762.7,212.3 764.7,212.3 766.7,212.3 768.7,212.4 770.8,212.4 772.8,212.4 774.8,212.5 776.8,212.5 778.9,212.5 780.9,212.6 782.9,212.7 784.9,212.7 786.9,212.8 789.0,212.9 791.0,213.0 793.0,213.0 795.0,213.1 797.0,213.2 799.1,213.3 801.1,213.4 803.1,213.6 805.1,213.7 807.1,213.8 809.2,213.9 811.2,214.0 813.2,214.2 815.2,214.3 817.2,214.5 819.2,214.6 821.3,214.8 823.3,214.9 825.3,215.1 827.3,215.2 829.3,215.4 831.4,215.6 833.4,215.7 835.4,215.9 837.4,216.1 839.4,216.3 841.4,216.5 843.5,216.6 845.5,216.8 847.5,217.0 849.5,217.2 851.5,217.4 853.5,217.6 855.5,217.8 857.6,218.0 859.6,218.2 861.6,218.5 863.6,218.7 865.6,218.9 867.6,219.1 869.7,219.3 871.7,219.5 873.7,219.8 875.7,220.0 877.7,220.2 879.7,220.4 881.7,220.7 883.7,220.9 885.8,221.1 887.8,221.4 889.8,221.6 891.8,221.8 893.8,222.1 895.8,222.3 897.8,222.6 899.8,222.8 901.8,223.0 903.9,223.3 905.9,223.5 907.9,223.8 909.9,224.0 911.9,224.2 913.9,224.5 915.9,224.7 917.9,225.0 919.9,225.2 921.9,225.4 923.9,225.7 926.0,225.9 928.0,226.2 930.0,226.4 932.0,226.6 934.0,226.9 936.0,227.1 938.0,227.4 940.0,227.6 942.0,227.8 944.0,228.1 946.0,228.3 948.0,228.5 950.0,228.8 952.0,229.0 954.0,229.2 956.0,229.4 958.1,229.7 960.1,229.9 962.1,230.1 964.1,230.3 966.1,230.5 968.1,230.7 970.1,230.9 972.1,231.2 974.1,231.4 976.1,231.6 978.1,231.8 980.1,232.0 982.1,232.2 984.1,232.4 986.1,232.5 988.1,232.7 990.1,232.9 992.1,233.1 994.1,233.3 996.1,233.4 998.1,233.6 1000.1,233.8 1002.1,233.9 1004.1,234.1 1006.1,234.3 1008.1,234.4 1010.1,234.6 1012.0,234.7 1014.0,234.9 1016.0,235.0 1018.0,235.1 1020.0,235.2 1022.0,235.4 1024.0,235.5 1026.0,235.6 1028.0,235.7 1030.0,235.8 1032.0,235.9 1034.0,236.0 1036.0,236.1 1038.0,236.2"/><path d="M544.2,289.7L546.1,289.0 548.0,288.2 549.9,287.5 551.8,286.7 553.7,286.0 555.6,285.3 557.5,284.6 559.4,283.9 561.3,283.2 563.2,282.5 565.1,281.8 567.0,281.2 569.0,280.5 570.9,279.9 572.8,279.2 574.7,278.6 576.6,277.9 578.6,277.3 580.5,276.7 582.4,276.1 584.3,275.5 586.3,274.9 588.2,274.4 590.1,273.8 592.1,273.2 594.0,272.7 595.9,272.1 597.9,271.6 599.8,271.0 601.7,270.5 603.7,270.0 605.6,269.5 607.6,269.0 609.5,268.5 611.5,268.0 613.4,267.5 615.4,267.0 617.3,266.6 619.3,266.1 621.2,265.6 623.2,265.2 625.1,264.8 627.1,264.3 629.0,263.9 631.0,263.5 632.9,263.1 634.9,262.7 636.8,262.3 638.8,261.9 640.8,261.5 642.7,261.1 644.7,260.8 646.7,260.4 648.6,260.0 650.6,259.7 652.6,259.3 654.5,259.0 656.5,258.7 658.5,258.4 660.4,258.0 662.4,257.7 664.4,257.4 666.4,257.1 668.3,256.8 670.3,256.6 672.3,256.3 674.3,256.0 676.2,255.7 678.2,255.5 680.2,255.2 682.2,255.0 684.2,254.7 686.1,254.5 688.1,254.3 690.1,254.0 692.1,253.8 694.1,253.6 696.1,253.4 698.1,253.2 700.0,253.0 702.0,252.8 704.0,252.6 706.0,252.5 708.0,252.3 710.0,252.1 712.0,252.0 714.0,251.8 716.0,251.7 718.0,251.5 720.0,251.4 721.9,251.3 723.9,251.1 725.9,251.0 727.9,250.9 729.9,250.8 731.9,250.7 733.9,250.6 735.9,250.5 737.9,250.4 739.9,250.3 741.9,250.2 743.9,250.1 745.9,250.1 747.9,250.0 749.9,249.9 751.9,249.9 753.9,249.8 755.9,249.8 757.9,249.8 759.9,249.7 762.0,249.7 764.0,249.7 766.0,249.6 768.0,249.6 770.0,249.6 772.0,249.6 774.0,249.6 776.0,249.6 778.0,249.6 780.0,249.6 782.0,249.6 784.0,249.6 786.0,249.7 788.1,249.7 790.1,249.7 792.1,249.8 794.1,249.8 796.1,249.8 798.1,249.9 800.1,249.9 802.1,250.0 804.1,250.0 806.1,250.1 808.2,250.2 810.2,250.2 812.2,250.3 814.2,250.4 816.2,250.5 818.2,250.6 820.2,250.7 822.2,250.8 824.3,250.9 826.3,251.0 828.3,251.1 830.3,251.2 832.3,251.3 834.3,251.4 836.3,251.5 838.3,251.6 840.4,251.8 842.4,251.9 844.4,252.0 846.4,252.2 848.4,252.3 850.4,252.4 852.4,252.6 854.4,252.7 856.5,252.9 858.5,253.0 860.5,253.2 862.5,253.4 864.5,253.5 866.5,253.7 868.5,253.9 870.5,254.0 872.6,254.2 874.6,254.4 876.6,254.6 878.6,254.7 880.6,254.9 882.6,255.1 884.6,255.3 886.6,255.5 888.6,255.7 890.6,255.9 892.7,256.1 894.7,256.3 896.7,256.5 898.7,256.7 900.7,256.9 902.7,257.1 904.7,257.4 906.7,257.6 908.7,257.8 910.7,258.0 912.7,258.2 914.7,258.5 916.7,258.7 918.8,258.9 920.8,259.2 922.8,259.4 924.8,259.6 926.8,259.9 928.8,260.1 930.8,260.3 932.8,260.6 934.8,260.8 936.8,261.1 938.8,261.3 940.8,261.6 942.8,261.8 944.8,262.1 946.8,262.3 948.8,262.6 950.8,262.9 952.8,263.1 954.8,263.4 956.8,263.6 958.8,263.9 960.8,264.2 962.7,264.4 964.7,264.7 966.7,265.0 968.7,265.2 970.7,265.5 972.7,265.8 974.7,266.1 976.7,266.3 978.7,266.6 980.7,266.9 982.7,267.2 984.6,267.4 986.6,267.7 988.6,268.0 990.6,268.3 992.6,268.5 994.6,268.8 996.5,269.1 998.5,269.4 1000.5,269.7 1002.5,270.0 1004.5,270.2 1006.4,270.5 1008.4,270.8 1010.4,271.1 1012.4,271.4 1014.3,271.7 1016.3,272.0 1018.3,272.2 1020.3,272.5 1022.2,272.8 1024.2,273.1 1026.2,273.4 1028.1,273.7 1030.1,274.0 1032.1,274.3 1034.0,274.6 1036.0,274.8 1038.0,275.1"/><path d="M544.2,359.2L545.8,358.0 547.5,356.9 549.2,355.7 550.8,354.6 552.5,353.4 554.2,352.3 555.8,351.2 557.5,350.1 559.2,349.0 560.9,347.9 562.6,346.8 564.3,345.7 566.0,344.6 567.7,343.6 569.4,342.5 571.2,341.5 572.9,340.4 574.6,339.4 576.4,338.4 578.1,337.4 579.9,336.4 581.6,335.4 583.4,334.4 585.1,333.4 586.9,332.4 588.7,331.5 590.4,330.5 592.2,329.6 594.0,328.6 595.8,327.7 597.6,326.8 599.4,325.9 601.2,325.0 603.0,324.1 604.8,323.2 606.6,322.3 608.4,321.5 610.3,320.6 612.1,319.8 613.9,318.9 615.7,318.1 617.6,317.3 619.4,316.5 621.3,315.7 623.1,314.9 625.0,314.1 626.8,313.4 628.7,312.6 630.6,311.9 632.4,311.1 634.3,310.4 636.2,309.7 638.1,309.0 640.0,308.3 641.8,307.6 643.7,306.9 645.6,306.3 647.5,305.6 649.4,305.0 651.3,304.3 653.2,303.7 655.2,303.1 657.1,302.5 659.0,301.9 660.9,301.3 662.8,300.8 664.8,300.2 666.7,299.6 668.6,299.1 670.6,298.6 672.5,298.1 674.4,297.6 676.4,297.1 678.3,296.6 680.3,296.1 682.2,295.6 684.2,295.2 686.2,294.7 688.1,294.3 690.1,293.9 692.0,293.4 694.0,293.0 696.0,292.6 698.0,292.2 699.9,291.9 701.9,291.5 703.9,291.1 705.9,290.8 707.9,290.4 709.8,290.1 711.8,289.8 713.8,289.5 715.8,289.2 717.8,288.9 719.8,288.6 721.8,288.3 723.8,288.1 725.8,287.8 727.8,287.6 729.8,287.3 731.8,287.1 733.8,286.9 735.8,286.6 737.8,286.4 739.8,286.2 741.8,286.1 743.8,285.9 745.8,285.7 747.8,285.5 749.8,285.4 751.9,285.2 753.9,285.1 755.9,285.0 757.9,284.9 759.9,284.7 761.9,284.6 763.9,284.5 765.9,284.5 768.0,284.4 770.0,284.3 772.0,284.2 774.0,284.2 776.0,284.1 778.0,284.1 780.1,284.0 782.1,284.0 784.1,284.0 786.1,284.0 788.1,284.0 790.1,284.0 792.2,284.0 794.2,284.0 796.2,284.0 798.2,284.1 800.2,284.1 802.2,284.1 804.2,284.2 806.3,284.3 808.3,284.3 810.3,284.4 812.3,284.5 814.3,284.6 816.3,284.7 818.3,284.8 820.3,284.9 822.4,285.0 824.4,285.1 826.4,285.2 828.4,285.4 830.4,285.5 832.4,285.7 834.4,285.8 836.4,286.0 838.4,286.1 840.4,286.3 842.4,286.5 844.4,286.7 846.4,286.9 848.5,287.1 850.5,287.3 852.5,287.5 854.5,287.7 856.5,288.0 858.5,288.2 860.5,288.4 862.5,288.7 864.5,288.9 866.5,289.2 868.5,289.4 870.4,289.7 872.4,290.0 874.4,290.3 876.4,290.6 878.4,290.8 880.4,291.1 882.4,291.4 884.4,291.8 886.4,292.1 888.4,292.4 890.4,292.7 892.3,293.1 894.3,293.4 896.3,293.7 898.3,294.1 900.3,294.5 902.3,294.8 904.2,295.2 906.2,295.6 908.2,295.9 910.2,296.3 912.1,296.7 914.1,297.1 916.1,297.5 918.1,297.9 920.0,298.3 922.0,298.7 924.0,299.1 925.9,299.5 927.9,300.0 929.9,300.4 931.8,300.8 933.8,301.3 935.8,301.7 937.7,302.1 939.7,302.6 941.7,303.0 943.6,303.5 945.6,303.9 947.5,304.4 949.5,304.8 951.5,305.3 953.4,305.7 955.4,306.2 957.3,306.6 959.3,307.1 961.3,307.5 963.2,308.0 965.2,308.5 967.1,308.9 969.1,309.4 971.1,309.8 973.0,310.3 975.0,310.7 976.9,311.2 978.9,311.6 980.9,312.1 982.8,312.6 984.8,313.0 986.8,313.5 988.7,313.9 990.7,314.3 992.6,314.8 994.6,315.2 996.6,315.7 998.5,316.1 1000.5,316.5 1002.5,317.0 1004.4,317.4 1006.4,317.8 1008.4,318.2 1010.3,318.6 1012.3,319.0 1014.3,319.5 1016.2,319.9 1018.2,320.3 1020.2,320.6 1022.2,321.0 1024.1,321.4 1026.1,321.8 1028.1,322.2 1030.1,322.5 1032.0,322.9 1034.0,323.2 1036.0,323.6 1038.0,323.9"/><path d="M544.2,378.0L546.0,377.1 547.9,376.3 549.7,375.4 551.6,374.6 553.4,373.8 555.3,373.0 557.2,372.2 559.0,371.4 560.9,370.6 562.8,369.8 564.7,369.1 566.5,368.3 568.4,367.6 570.3,366.8 572.2,366.1 574.1,365.4 576.0,364.7 577.9,363.9 579.8,363.2 581.7,362.5 583.5,361.9 585.4,361.2 587.4,360.5 589.3,359.8 591.2,359.2 593.1,358.5 595.0,357.9 596.9,357.3 598.8,356.7 600.7,356.0 602.6,355.4 604.6,354.8 606.5,354.2 608.4,353.7 610.3,353.1 612.2,352.5 614.2,352.0 616.1,351.4 618.0,350.9 620.0,350.3 621.9,349.8 623.8,349.3 625.8,348.7 627.7,348.2 629.7,347.7 631.6,347.2 633.5,346.8 635.5,346.3 637.4,345.8 639.4,345.3 641.3,344.9 643.3,344.4 645.2,344.0 647.2,343.6 649.1,343.1 651.1,342.7 653.1,342.3 655.0,341.9 657.0,341.5 658.9,341.1 660.9,340.7 662.9,340.3 664.8,340.0 666.8,339.6 668.8,339.3 670.8,338.9 672.7,338.6 674.7,338.2 676.7,337.9 678.6,337.6 680.6,337.3 682.6,337.0 684.6,336.7 686.6,336.4 688.5,336.1 690.5,335.8 692.5,335.5 694.5,335.3 696.5,335.0 698.5,334.8 700.4,334.5 702.4,334.3 704.4,334.0 706.4,333.8 708.4,333.6 710.4,333.4 712.4,333.2 714.4,333.0 716.4,332.8 718.4,332.6 720.4,332.4 722.4,332.2 724.4,332.1 726.4,331.9 728.4,331.8 730.4,331.6 732.4,331.5 734.4,331.3 736.4,331.2 738.4,331.1 740.4,331.0 742.4,330.9 744.4,330.8 746.4,330.7 748.4,330.6 750.4,330.5 752.4,330.4 754.4,330.3 756.4,330.3 758.4,330.2 760.4,330.2 762.4,330.1 764.5,330.1 766.5,330.0 768.5,330.0 770.5,330.0 772.5,329.9 774.5,329.9 776.5,329.9 778.5,329.9 780.5,329.9 782.6,329.9 784.6,330.0 786.6,330.0 788.6,330.0 790.6,330.0 792.6,330.1 794.6,330.1 796.6,330.2 798.7,330.2 800.7,330.3 802.7,330.4 804.7,330.4 806.7,330.5 808.7,330.6 810.7,330.7 812.8,330.8 814.8,330.9 816.8,331.0 818.8,331.1 820.8,331.2 822.8,331.3 824.8,331.5 826.9,331.6 828.9,331.7 830.9,331.9 832.9,332.0 834.9,332.2 836.9,332.4 838.9,332.5 840.9,332.7 843.0,332.9 845.0,333.0 847.0,333.2 849.0,333.4 851.0,333.6 853.0,333.8 855.0,334.0 857.0,334.2 859.0,334.4 861.1,334.7 863.1,334.9 865.1,335.1 867.1,335.4 869.1,335.6 871.1,335.8 873.1,336.1 875.1,336.4 877.1,336.6 879.1,336.9 881.1,337.1 883.1,337.4 885.1,337.7 887.1,338.0 889.1,338.3 891.1,338.6 893.1,338.9 895.1,339.2 897.1,339.5 899.1,339.8 901.1,340.1 903.1,340.4 905.1,340.7 907.1,341.1 909.1,341.4 911.1,341.7 913.1,342.1 915.1,342.4 917.1,342.8 919.1,343.1 921.0,343.5 923.0,343.9 925.0,344.2 927.0,344.6 929.0,345.0 931.0,345.4 933.0,345.8 934.9,346.1 936.9,346.5 938.9,346.9 940.9,347.3 942.8,347.7 944.8,348.2 946.8,348.6 948.8,349.0 950.7,349.4 952.7,349.8 954.7,350.3 956.7,350.7 958.6,351.1 960.6,351.6 962.6,352.0 964.5,352.5 966.5,352.9 968.4,353.4 970.4,353.9 972.4,354.3 974.3,354.8 976.3,355.3 978.2,355.7 980.2,356.2 982.1,356.7 984.1,357.2 986.0,357.7 988.0,358.2 989.9,358.7 991.8,359.2 993.8,359.7 995.7,360.2 997.7,360.7 999.6,361.2 1001.5,361.7 1003.5,362.3 1005.4,362.8 1007.3,363.3 1009.3,363.9 1011.2,364.4 1013.1,364.9 1015.0,365.5 1017.0,366.0 1018.9,366.6 1020.8,367.1 1022.7,367.7 1024.6,368.2 1026.5,368.8 1028.4,369.4 1030.3,369.9 1032.3,370.5 1034.2,371.1 1036.1,371.7 1038.0,372.2"/><path d="M544.2,460.2L546.0,459.4 547.9,458.6 549.7,457.8 551.6,457.1 553.5,456.3 555.3,455.5 557.2,454.8 559.1,454.0 560.9,453.3 562.8,452.6 564.7,451.8 566.5,451.1 568.4,450.4 570.3,449.7 572.2,449.0 574.1,448.3 576.0,447.6 577.8,446.9 579.7,446.2 581.6,445.5 583.5,444.8 585.4,444.2 587.3,443.5 589.2,442.8 591.1,442.2 593.0,441.5 594.9,440.9 596.8,440.3 598.7,439.6 600.6,439.0 602.5,438.4 604.5,437.8 606.4,437.2 608.3,436.6 610.2,436.0 612.1,435.4 614.1,434.8 616.0,434.2 617.9,433.6 619.8,433.0 621.8,432.5 623.7,431.9 625.6,431.4 627.5,430.8 629.5,430.3 631.4,429.7 633.4,429.2 635.3,428.7 637.2,428.1 639.2,427.6 641.1,427.1 643.1,426.6 645.0,426.1 647.0,425.6 648.9,425.1 650.9,424.6 652.8,424.2 654.8,423.7 656.7,423.2 658.7,422.8 660.6,422.3 662.6,421.8 664.6,421.4 666.5,421.0 668.5,420.5 670.4,420.1 672.4,419.7 674.4,419.3 676.3,418.8 678.3,418.4 680.3,418.0 682.2,417.6 684.2,417.2 686.2,416.9 688.2,416.5 690.1,416.1 692.1,415.7 694.1,415.4 696.1,415.0 698.1,414.7 700.0,414.3 702.0,414.0 704.0,413.6 706.0,413.3 708.0,413.0 709.9,412.7 711.9,412.3 713.9,412.0 715.9,411.7 717.9,411.4 719.9,411.1 721.9,410.9 723.9,410.6 725.9,410.3 727.9,410.0 729.8,409.8 731.8,409.5 733.8,409.2 735.8,409.0 737.8,408.8 739.8,408.5 741.8,408.3 743.8,408.1 745.8,407.8 747.8,407.6 749.8,407.4 751.8,407.2 753.8,407.0 755.8,406.8 757.8,406.6 759.8,406.4 761.8,406.3 763.8,406.1 765.8,405.9 767.8,405.8 769.8,405.6 771.8,405.5 773.9,405.3 775.9,405.2 777.9,405.0 779.9,404.9 781.9,404.8 783.9,404.7 785.9,404.6 787.9,404.5 789.9,404.4 791.9,404.3 793.9,404.2 795.9,404.1 797.9,404.0 800.0,404.0 802.0,403.9 804.0,403.8 806.0,403.8 808.0,403.7 810.0,403.7 812.0,403.6 814.0,403.6 816.0,403.6 818.1,403.5 820.1,403.5 822.1,403.5 824.1,403.5 826.1,403.5 828.1,403.5 830.1,403.5 832.1,403.5 834.1,403.6 836.2,403.6 838.2,403.6 840.2,403.7 842.2,403.7 844.2,403.8 846.2,403.8 848.2,403.9 850.2,403.9 852.2,404.0 854.2,404.1 856.3,404.2 858.3,404.2 860.3,404.3 862.3,404.4 864.3,404.5 866.3,404.7 868.3,404.8 870.3,404.9 872.3,405.0 874.3,405.1 876.3,405.3 878.3,405.4 880.3,405.6 882.3,405.7 884.3,405.9 886.3,406.1 888.4,406.2 890.4,406.4 892.4,406.6 894.4,406.8 896.4,407.0 898.4,407.2 900.4,407.4 902.4,407.6 904.4,407.8 906.4,408.0 908.4,408.2 910.4,408.5 912.3,408.7 914.3,408.9 916.3,409.2 918.3,409.4 920.3,409.7 922.3,410.0 924.3,410.2 926.3,410.5 928.3,410.8 930.3,411.1 932.3,411.4 934.3,411.7 936.2,412.0 938.2,412.3 940.2,412.6 942.2,412.9 944.2,413.2 946.2,413.6 948.2,413.9 950.1,414.3 952.1,414.6 954.1,415.0 956.1,415.3 958.0,415.7 960.0,416.0 962.0,416.4 964.0,416.8 965.9,417.2 967.9,417.6 969.9,418.0 971.9,418.4 973.8,418.8 975.8,419.2 977.7,419.6 979.7,420.0 981.7,420.5 983.6,420.9 985.6,421.4 987.6,421.8 989.5,422.3 991.5,422.7 993.4,423.2 995.4,423.6 997.3,424.1 999.3,424.6 1001.2,425.1 1003.2,425.6 1005.1,426.1 1007.1,426.6 1009.0,427.1 1011.0,427.6 1012.9,428.1 1014.8,428.7 1016.8,429.2 1018.7,429.7 1020.7,430.3 1022.6,430.8 1024.5,431.4 1026.5,431.9 1028.4,432.5 1030.3,433.1 1032.2,433.6 1034.2,434.2 1036.1,434.8 1038.0,435.4"/><path d="M544.1,502.4L545.9,501.3 547.6,500.2 549.4,499.2 551.1,498.1 552.9,497.1 554.6,496.1 556.4,495.1 558.2,494.1 560.0,493.2 561.8,492.3 563.6,491.3 565.4,490.4 567.2,489.6 569.0,488.7 570.8,487.9 572.6,487.0 574.5,486.2 576.3,485.4 578.1,484.7 580.0,483.9 581.8,483.2 583.7,482.4 585.6,481.7 587.4,481.0 589.3,480.3 591.2,479.7 593.1,479.0 595.0,478.4 596.9,477.8 598.7,477.2 600.6,476.6 602.6,476.0 604.5,475.4 606.4,474.9 608.3,474.4 610.2,473.8 612.1,473.3 614.1,472.8 616.0,472.4 617.9,471.9 619.9,471.4 621.8,471.0 623.8,470.6 625.7,470.1 627.7,469.7 629.6,469.3 631.6,468.9 633.5,468.6 635.5,468.2 637.5,467.8 639.4,467.5 641.4,467.2 643.4,466.9 645.4,466.5 647.3,466.2 649.3,465.9 651.3,465.7 653.3,465.4 655.3,465.1 657.3,464.9 659.2,464.6 661.2,464.4 663.2,464.2 665.2,464.0 667.2,463.7 669.2,463.5 671.2,463.4 673.2,463.2 675.2,463.0 677.2,462.8 679.2,462.7 681.3,462.5 683.3,462.4 685.3,462.2 687.3,462.1 689.3,462.0 691.3,461.9 693.3,461.8 695.3,461.7 697.4,461.6 699.4,461.5 701.4,461.4 703.4,461.3 705.4,461.3 707.5,461.2 709.5,461.1 711.5,461.1 713.5,461.0 715.5,461.0 717.6,461.0 719.6,460.9 721.6,460.9 723.6,460.9 725.7,460.9 727.7,460.9 729.7,460.9 731.7,460.9 733.8,460.9 735.8,460.9 737.8,460.9 739.8,460.9 741.9,460.9 743.9,461.0 745.9,461.0 747.9,461.0 750.0,461.1 752.0,461.1 754.0,461.1 756.0,461.2 758.1,461.2 760.1,461.3 762.1,461.3 764.1,461.4 766.1,461.5 768.1,461.5 770.2,461.6 772.2,461.7 774.2,461.7 776.2,461.8 778.2,461.9 780.2,462.0 782.3,462.1 784.3,462.1 786.3,462.2 788.3,462.3 790.3,462.4 792.3,462.5 794.3,462.6 796.4,462.7 798.4,462.8 800.4,463.0 802.4,463.1 804.4,463.2 806.4,463.3 808.4,463.4 810.4,463.5 812.4,463.7 814.5,463.8 816.5,463.9 818.5,464.1 820.5,464.2 822.5,464.3 824.5,464.5 826.5,464.6 828.5,464.8 830.5,464.9 832.5,465.1 834.5,465.2 836.5,465.4 838.5,465.5 840.5,465.7 842.5,465.9 844.5,466.0 846.5,466.2 848.5,466.4 850.5,466.6 852.5,466.7 854.5,466.9 856.5,467.1 858.6,467.3 860.6,467.5 862.6,467.6 864.6,467.8 866.6,468.0 868.6,468.2 870.6,468.4 872.6,468.6 874.6,468.8 876.5,469.0 878.5,469.2 880.5,469.4 882.5,469.6 884.5,469.8 886.5,470.0 888.5,470.3 890.5,470.5 892.5,470.7 894.5,470.9 896.5,471.1 898.5,471.4 900.5,471.6 902.5,471.8 904.5,472.0 906.5,472.3 908.5,472.5 910.5,472.7 912.5,473.0 914.5,473.2 916.5,473.4 918.5,473.7 920.5,473.9 922.5,474.2 924.5,474.4 926.4,474.7 928.4,474.9 930.4,475.2 932.4,475.4 934.4,475.7 936.4,475.9 938.4,476.2 940.4,476.4 942.4,476.7 944.4,477.0 946.4,477.2 948.4,477.5 950.4,477.7 952.4,478.0 954.3,478.3 956.3,478.6 958.3,478.8 960.3,479.1 962.3,479.4 964.3,479.6 966.3,479.9 968.3,480.2 970.3,480.5 972.3,480.8 974.3,481.0 976.3,481.3 978.2,481.6 980.2,481.9 982.2,482.2 984.2,482.4 986.2,482.7 988.2,483.0 990.2,483.3 992.2,483.6 994.2,483.9 996.2,484.2 998.2,484.5 1000.2,484.8 1002.1,485.1 1004.1,485.4 1006.1,485.7 1008.1,486.0 1010.1,486.3 1012.1,486.6 1014.1,486.9 1016.1,487.2 1018.1,487.5 1020.1,487.8 1022.1,488.1 1024.1,488.4 1026.0,488.7 1028.0,489.0 1030.0,489.3 1032.0,489.6 1034.0,489.9 1036.0,490.2 1038.0,490.5"/><path d="M544.2,702.0L545.3,700.3 546.5,698.7 547.7,697.0 548.9,695.4 550.1,693.8 551.4,692.2 552.6,690.6 553.9,689.0 555.2,687.5 556.4,685.9 557.7,684.4 559.1,682.9 560.4,681.4 561.7,679.9 563.1,678.4 564.4,677.0 565.8,675.5 567.2,674.1 568.6,672.7 570.0,671.2 571.4,669.8 572.8,668.5 574.3,667.1 575.7,665.7 577.2,664.4 578.7,663.0 580.2,661.7 581.6,660.4 583.1,659.1 584.7,657.8 586.2,656.5 587.7,655.2 589.2,654.0 590.8,652.7 592.3,651.5 593.9,650.2 595.5,649.0 597.1,647.8 598.7,646.6 600.3,645.4 601.9,644.2 603.5,643.0 605.1,641.8 606.7,640.7 608.4,639.5 610.0,638.4 611.6,637.2 613.3,636.1 615.0,635.0 616.6,633.9 618.3,632.8 620.0,631.7 621.6,630.6 623.3,629.5 625.0,628.4 626.7,627.3 628.4,626.3 630.1,625.2 631.9,624.1 633.6,623.1 635.3,622.1 637.0,621.0 638.7,620.0 640.5,619.0 642.2,617.9 644.0,616.9 645.7,615.9 647.4,614.9 649.2,613.9 650.9,612.9 652.7,611.9 654.5,610.9 656.2,610.0 658.0,609.0 659.8,608.0 661.5,607.1 663.3,606.1 665.1,605.2 666.9,604.2 668.7,603.3 670.5,602.4 672.3,601.4 674.1,600.5 675.9,599.6 677.7,598.7 679.5,597.8 681.3,596.9 683.1,596.0 684.9,595.2 686.7,594.3 688.5,593.4 690.4,592.6 692.2,591.7 694.0,590.9 695.8,590.0 697.7,589.2 699.5,588.4 701.4,587.5 703.2,586.7 705.1,585.9 706.9,585.1 708.8,584.3 710.6,583.6 712.5,582.8 714.3,582.0 716.2,581.3 718.1,580.5 719.9,579.8 721.8,579.0 723.7,578.3 725.6,577.6 727.4,576.9 729.3,576.1 731.2,575.4 733.1,574.8 735.0,574.1 736.9,573.4 738.8,572.7 740.7,572.1 742.6,571.4 744.5,570.8 746.4,570.1 748.3,569.5 750.2,568.9 752.1,568.3 754.0,567.7 755.9,567.1 757.8,566.5 759.7,565.9 761.7,565.4 763.6,564.8 765.5,564.3 767.4,563.7 769.4,563.2 771.3,562.7 773.2,562.2 775.2,561.6 777.1,561.1 779.1,560.6 781.0,560.2 782.9,559.7 784.9,559.2 786.8,558.8 788.8,558.3 790.7,557.9 792.7,557.4 794.6,557.0 796.6,556.6 798.5,556.2 800.5,555.7 802.5,555.4 804.4,555.0 806.4,554.6 808.4,554.2 810.3,553.8 812.3,553.5 814.3,553.1 816.2,552.8 818.2,552.4 820.2,552.1 822.2,551.8 824.1,551.5 826.1,551.2 828.1,550.9 830.1,550.6 832.1,550.3 834.0,550.0 836.0,549.7 838.0,549.5 840.0,549.2 842.0,549.0 844.0,548.7 846.0,548.5 847.9,548.3 849.9,548.0 851.9,547.8 853.9,547.6 855.9,547.4 857.9,547.2 859.9,547.0 861.9,546.9 863.9,546.7 865.9,546.5 867.9,546.4 869.9,546.2 871.9,546.1 873.9,545.9 875.9,545.8 877.9,545.7 879.9,545.6 881.9,545.4 883.9,545.3 885.9,545.2 887.9,545.2 889.9,545.1 892.0,545.0 894.0,544.9 896.0,544.9 898.0,544.8 900.0,544.7 902.0,544.7 904.0,544.7 906.0,544.6 908.0,544.6 910.0,544.6 912.0,544.6 914.1,544.5 916.1,544.5 918.1,544.6 920.1,544.6 922.1,544.6 924.1,544.6 926.1,544.6 928.1,544.7 930.1,544.7 932.1,544.7 934.2,544.8 936.2,544.9 938.2,544.9 940.2,545.0 942.2,545.1 944.2,545.1 946.2,545.2 948.2,545.3 950.2,545.4 952.2,545.5 954.3,545.6 956.3,545.7 958.3,545.9 960.3,546.0 962.3,546.1 964.3,546.3 966.3,546.4 968.3,546.6 970.3,546.7 972.3,546.9 974.3,547.0 976.3,547.2 978.3,547.4 980.3,547.6 982.3,547.7 984.3,547.9 986.3,548.1 988.3,548.3 990.3,548.5 992.3,548.7 994.3,549.0 996.3,549.2 998.3,549.4 1000.3,549.6 1002.3,549.9 1004.3,550.1 1006.3,550.4 1008.3,550.6 1010.3,550.9 1012.3,551.1 1014.2,551.4 1016.2,551.7 1018.2,551.9 1020.2,552.2 1022.2,552.5 1024.2,552.8 1026.1,553.1 1028.1,553.4 1030.1,553.7 1032.1,554.0 1034.0,554.3 1036.0,554.6 1038.0,554.9"/><path d="M544.2,736.9L545.4,735.2 546.6,733.6 547.8,732.0 549.1,730.4 550.4,728.8 551.7,727.3 553.0,725.8 554.4,724.3 555.7,722.8 557.1,721.4 558.5,720.0 559.9,718.6 561.4,717.2 562.8,715.9 564.3,714.5 565.8,713.2 567.3,711.9 568.9,710.7 570.4,709.4 571.9,708.2 573.5,706.9 575.1,705.7 576.7,704.5 578.3,703.4 579.9,702.2 581.5,701.0 583.2,699.9 584.8,698.8 586.5,697.6 588.2,696.5 589.8,695.4 591.5,694.4 593.2,693.3 594.9,692.2 596.6,691.1 598.3,690.1 600.1,689.0 601.8,688.0 603.5,686.9 605.2,685.9 607.0,684.8 608.7,683.8 610.4,682.8 612.2,681.8 613.9,680.8 615.7,679.8 617.5,678.8 619.2,677.8 621.0,676.8 622.8,675.8 624.5,674.8 626.3,673.9 628.1,672.9 629.9,671.9 631.7,671.0 633.5,670.1 635.3,669.1 637.1,668.2 638.9,667.3 640.7,666.4 642.5,665.5 644.3,664.6 646.1,663.7 647.9,662.8 649.8,661.9 651.6,661.1 653.4,660.2 655.2,659.4 657.1,658.5 658.9,657.7 660.8,656.9 662.6,656.1 664.4,655.3 666.3,654.5 668.1,653.7 670.0,652.9 671.8,652.1 673.7,651.4 675.6,650.6 677.4,649.9 679.3,649.1 681.1,648.4 683.0,647.7 684.9,646.9 686.8,646.2 688.6,645.5 690.5,644.8 692.4,644.1 694.3,643.5 696.1,642.8 698.0,642.1 699.9,641.5 701.8,640.8 703.7,640.2 705.6,639.5 707.5,638.9 709.4,638.3 711.3,637.7 713.2,637.1 715.1,636.5 717.0,635.9 718.9,635.3 720.8,634.7 722.7,634.1 724.7,633.6 726.6,633.0 728.5,632.4 730.4,631.9 732.3,631.3 734.3,630.8 736.2,630.3 738.1,629.7 740.1,629.2 742.0,628.7 743.9,628.2 745.9,627.7 747.8,627.2 749.7,626.7 751.7,626.2 753.6,625.7 755.6,625.2 757.5,624.8 759.5,624.3 761.4,623.8 763.4,623.4 765.3,622.9 767.3,622.5 769.2,622.0 771.2,621.6 773.2,621.2 775.1,620.7 777.1,620.3 779.1,619.9 781.0,619.5 783.0,619.1 785.0,618.6 786.9,618.2 788.9,617.8 790.9,617.5 792.9,617.1 794.8,616.7 796.8,616.3 798.8,615.9 800.8,615.6 802.8,615.2 804.8,614.8 806.7,614.5 808.7,614.1 810.7,613.8 812.7,613.5 814.7,613.1 816.7,612.8 818.7,612.5 820.7,612.2 822.7,611.8 824.7,611.5 826.7,611.2 828.7,611.0 830.7,610.7 832.7,610.4 834.7,610.1 836.7,609.8 838.7,609.6 840.7,609.3 842.7,609.1 844.7,608.8 846.7,608.6 848.7,608.4 850.7,608.2 852.7,607.9 854.7,607.7 856.7,607.5 858.7,607.3 860.7,607.2 862.7,607.0 864.7,606.8 866.7,606.6 868.7,606.5 870.8,606.3 872.8,606.2 874.8,606.1 876.8,605.9 878.8,605.8 880.8,605.7 882.8,605.6 884.8,605.5 886.8,605.4 888.8,605.3 890.8,605.3 892.9,605.2 894.9,605.1 896.9,605.1 898.9,605.1 900.9,605.0 902.9,605.0 904.9,605.0 906.9,605.0 908.9,605.0 910.9,605.0 912.9,605.0 914.9,605.1 916.9,605.1 918.9,605.2 920.9,605.2 923.0,605.3 925.0,605.4 927.0,605.5 929.0,605.6 931.0,605.7 933.0,605.8 935.0,605.9 936.9,606.0 938.9,606.2 940.9,606.4 942.9,606.5 944.9,606.7 946.9,606.9 948.9,607.1 950.9,607.3 952.9,607.6 954.8,607.8 956.8,608.1 958.8,608.4 960.8,608.7 962.7,609.0 964.7,609.3 966.7,609.6 968.6,610.0 970.6,610.4 972.6,610.8 974.5,611.2 976.5,611.6 978.4,612.0 980.3,612.5 982.3,613.0 984.2,613.5 986.1,614.0 988.1,614.5 990.0,615.1 991.9,615.6 993.8,616.2 995.7,616.9 997.6,617.5 999.5,618.1 1001.4,618.8 1003.3,619.5 1005.2,620.2 1007.0,621.0 1008.9,621.7 1010.8,622.5 1012.6,623.3 1014.5,624.1 1016.3,624.9 1018.2,625.8 1020.0,626.6 1021.8,627.5 1023.7,628.4 1025.5,629.3 1027.3,630.2 1029.1,631.2 1030.9,632.1 1032.7,633.1 1034.5,634.1 1036.2,635.1 1038.0,636.1"/><path d="M544.2,889.8L544.6,887.8 545.1,885.8 545.7,883.9 546.4,882.0 547.2,880.2 548.1,878.5 549.0,876.8 550.1,875.1 551.2,873.4 552.3,871.8 553.5,870.3 554.8,868.7 556.1,867.2 557.4,865.7 558.8,864.3 560.2,862.8 561.6,861.4 563.1,860.0 564.6,858.7 566.0,857.3 567.5,855.9 569.0,854.6 570.5,853.3 572.1,852.0 573.6,850.7 575.1,849.4 576.7,848.1 578.2,846.9 579.8,845.6 581.4,844.4 583.0,843.1 584.6,841.9 586.1,840.7 587.8,839.5 589.4,838.3 591.0,837.1 592.6,836.0 594.2,834.8 595.9,833.7 597.5,832.5 599.2,831.4 600.8,830.3 602.5,829.2 604.2,828.0 605.9,826.9 607.5,825.9 609.2,824.8 610.9,823.7 612.6,822.6 614.3,821.5 616.0,820.5 617.7,819.4 619.4,818.4 621.2,817.3 622.9,816.3 624.6,815.3 626.3,814.2 628.1,813.2 629.8,812.2 631.6,811.2 633.3,810.2 635.0,809.2 636.8,808.1 638.5,807.1 640.3,806.1 642.0,805.1 643.8,804.2 645.6,803.2 647.3,802.2 649.1,801.2 650.8,800.2 652.6,799.2 654.4,798.2 656.1,797.3 657.9,796.3 659.7,795.3 661.5,794.4 663.2,793.4 665.0,792.5 666.8,791.5 668.6,790.6 670.4,789.6 672.2,788.7 674.0,787.8 675.7,786.8 677.5,785.9 679.3,785.0 681.1,784.1 682.9,783.2 684.7,782.3 686.5,781.4 688.4,780.5 690.2,779.6 692.0,778.8 693.8,777.9 695.6,777.0 697.4,776.2 699.3,775.3 701.1,774.5 702.9,773.7 704.7,772.8 706.6,772.0 708.4,771.2 710.2,770.4 712.1,769.6 713.9,768.8 715.8,768.1 717.6,767.3 719.5,766.5 721.3,765.8 723.2,765.1 725.0,764.3 726.9,763.6 728.7,762.9 730.6,762.2 732.5,761.5 734.3,760.8 736.2,760.1 738.1,759.4 740.0,758.7 741.8,758.0 743.7,757.4 745.6,756.7 747.5,756.1 749.4,755.4 751.3,754.8 753.2,754.1 755.1,753.5 757.0,752.9 758.9,752.2 760.8,751.6 762.7,751.0 764.6,750.4 766.5,749.8 768.4,749.2 770.3,748.5 772.2,747.9 774.1,747.3 776.0,746.7 778.0,746.1 779.9,745.5 781.8,745.0 783.7,744.4 785.7,743.8 787.6,743.2 789.5,742.6 791.5,742.0 793.4,741.5 795.4,740.9 797.3,740.3 799.2,739.8 801.2,739.2 803.1,738.7 805.1,738.1 807.0,737.6 809.0,737.1 810.9,736.5 812.9,736.0 814.8,735.5 816.8,734.9 818.8,734.4 820.7,733.9 822.7,733.4 824.6,732.9 826.6,732.4 828.6,731.9 830.5,731.5 832.5,731.0 834.5,730.5 836.4,730.0 838.4,729.6 840.4,729.1 842.4,728.7 844.3,728.3 846.3,727.8 848.3,727.4 850.3,727.0 852.2,726.6 854.2,726.2 856.2,725.8 858.2,725.4 860.2,725.0 862.2,724.6 864.1,724.3 866.1,723.9 868.1,723.6 870.1,723.2 872.1,722.9 874.1,722.6 876.1,722.3 878.0,722.0 880.0,721.7 882.0,721.4 884.0,721.1 886.0,720.8 888.0,720.5 890.0,720.3 892.0,720.1 894.0,719.8 896.0,719.6 898.0,719.4 899.9,719.2 901.9,719.0 903.9,718.8 905.9,718.6 907.9,718.5 909.9,718.3 911.9,718.2 913.9,718.0 915.9,717.9 917.9,717.8 919.9,717.7 921.9,717.6 923.9,717.5 925.8,717.5 927.8,717.4 929.8,717.4 931.8,717.3 933.8,717.3 935.8,717.3 937.8,717.3 939.8,717.3 941.8,717.4 943.8,717.4 945.7,717.5 947.7,717.5 949.7,717.6 951.7,717.7 953.7,717.8 955.7,717.9 957.7,718.1 959.6,718.2 961.6,718.4 963.6,718.5 965.6,718.7 967.6,718.9 969.6,719.1 971.5,719.4 973.5,719.6 975.5,719.9 977.5,720.1 979.4,720.4 981.4,720.7 983.4,721.0 985.3,721.4 987.3,721.7 989.3,722.1 991.3,722.4 993.2,722.8 995.2,723.2 997.1,723.7 999.1,724.1 1001.1,724.6 1003.0,725.0 1005.0,725.5 1006.9,726.0 1008.9,726.5 1010.9,727.1 1012.8,727.6 1014.8,728.2 1016.7,728.8 1018.6,729.4 1020.6,730.0 1022.5,730.6 1024.5,731.3 1026.4,731.9 1028.4,732.6 1030.3,733.3 1032.2,734.1 1034.2,734.8 1036.1,735.6 1038.0,736.3"/></g><g fill="none" stroke="#2e862a" stroke-width="3.7" stroke-linecap="round" stroke-linejoin="round"><path d="M544.1,273.9L545.8,272.6 547.5,271.4 549.2,270.2 550.9,269.0 552.6,267.8 554.3,266.6 556.0,265.5 557.7,264.3 559.4,263.2 561.2,262.1 562.9,261.0 564.6,259.9 566.4,258.9 568.1,257.8 569.9,256.8 571.7,255.7 573.4,254.7 575.2,253.7 577.0,252.8 578.7,251.8 580.5,250.8 582.3,249.9 584.1,249.0 585.9,248.1 587.7,247.2 589.5,246.3 591.3,245.4 593.1,244.6 595.0,243.7 596.8,242.9 598.6,242.1 600.5,241.3 602.3,240.5 604.1,239.7 606.0,238.9 607.8,238.2 609.7,237.5 611.5,236.7 613.4,236.0 615.3,235.3 617.1,234.6 619.0,233.9 620.9,233.3 622.8,232.6 624.7,232.0 626.5,231.4 628.4,230.7 630.3,230.1 632.2,229.6 634.1,229.0 636.0,228.4 637.9,227.8 639.8,227.3 641.8,226.8 643.7,226.2 645.6,225.7 647.5,225.2 649.4,224.7 651.4,224.3 653.3,223.8 655.2,223.3 657.2,222.9 659.1,222.4 661.1,222.0 663.0,221.6 665.0,221.2 666.9,220.8 668.9,220.4 670.8,220.0 672.8,219.7 674.7,219.3 676.7,219.0 678.7,218.6 680.6,218.3 682.6,218.0 684.6,217.7 686.6,217.4 688.5,217.1 690.5,216.8 692.5,216.6 694.5,216.3 696.5,216.1 698.4,215.8 700.4,215.6 702.4,215.4 704.4,215.1 706.4,214.9 708.4,214.7 710.4,214.5 712.4,214.4 714.4,214.2 716.4,214.0 718.4,213.9 720.4,213.7 722.4,213.6 724.4,213.4 726.4,213.3 728.4,213.2 730.4,213.1 732.4,213.0 734.5,212.9 736.5,212.8 738.5,212.7 740.5,212.7 742.5,212.6 744.5,212.5 746.5,212.5 748.6,212.4 750.6,212.4 752.6,212.4 754.6,212.3 756.6,212.3 758.6,212.3 760.7,212.3 762.7,212.3 764.7,212.3 766.7,212.3 768.7,212.4 770.8,212.4 772.8,212.4 774.8,212.5 776.8,212.5 778.9,212.5 780.9,212.6 782.9,212.7 784.9,212.7 786.9,212.8 789.0,212.9 791.0,213.0 793.0,213.0 795.0,213.1 797.0,213.2 799.1,213.3 801.1,213.4 803.1,213.6 805.1,213.7 807.1,213.8 809.2,213.9 811.2,214.0 813.2,214.2 815.2,214.3 817.2,214.5 819.2,214.6 821.3,214.8 823.3,214.9 825.3,215.1 827.3,215.2 829.3,215.4 831.4,215.6 833.4,215.7 835.4,215.9 837.4,216.1 839.4,216.3 841.4,216.5 843.5,216.6 845.5,216.8 847.5,217.0 849.5,217.2 851.5,217.4 853.5,217.6 855.5,217.8 857.6,218.0 859.6,218.2 861.6,218.5 863.6,218.7 865.6,218.9 867.6,219.1 869.7,219.3 871.7,219.5 873.7,219.8 875.7,220.0 877.7,220.2 879.7,220.4 881.7,220.7 883.7,220.9 885.8,221.1 887.8,221.4 889.8,221.6 891.8,221.8 893.8,222.1 895.8,222.3 897.8,222.6 899.8,222.8 901.8,223.0 903.9,223.3 905.9,223.5 907.9,223.8 909.9,224.0 911.9,224.2 913.9,224.5 915.9,224.7 917.9,225.0 919.9,225.2 921.9,225.4 923.9,225.7 926.0,225.9 928.0,226.2 930.0,226.4 932.0,226.6 934.0,226.9 936.0,227.1 938.0,227.4 940.0,227.6 942.0,227.8 944.0,228.1 946.0,228.3 948.0,228.5 950.0,228.8 952.0,229.0 954.0,229.2 956.0,229.4 958.1,229.7 960.1,229.9 962.1,230.1 964.1,230.3 966.1,230.5 968.1,230.7 970.1,230.9 972.1,231.2 974.1,231.4 976.1,231.6 978.1,231.8 980.1,232.0 982.1,232.2 984.1,232.4 986.1,232.5 988.1,232.7 990.1,232.9 992.1,233.1 994.1,233.3 996.1,233.4 998.1,233.6 1000.1,233.8 1002.1,233.9 1004.1,234.1 1006.1,234.3 1008.1,234.4 1010.1,234.6 1012.0,234.7 1014.0,234.9 1016.0,235.0 1018.0,235.1 1020.0,235.2 1022.0,235.4 1024.0,235.5 1026.0,235.6 1028.0,235.7 1030.0,235.8 1032.0,235.9 1034.0,236.0 1036.0,236.1 1038.0,236.2"/><path d="M544.2,289.7L546.1,289.0 548.0,288.2 549.9,287.5 551.8,286.7 553.7,286.0 555.6,285.3 557.5,284.6 559.4,283.9 561.3,283.2 563.2,282.5 565.1,281.8 567.0,281.2 569.0,280.5 570.9,279.9 572.8,279.2 574.7,278.6 576.6,277.9 578.6,277.3 580.5,276.7 582.4,276.1 584.3,275.5 586.3,274.9 588.2,274.4 590.1,273.8 592.1,273.2 594.0,272.7 595.9,272.1 597.9,271.6 599.8,271.0 601.7,270.5 603.7,270.0 605.6,269.5 607.6,269.0 609.5,268.5 611.5,268.0 613.4,267.5 615.4,267.0 617.3,266.6 619.3,266.1 621.2,265.6 623.2,265.2 625.1,264.8 627.1,264.3 629.0,263.9 631.0,263.5 632.9,263.1 634.9,262.7 636.8,262.3 638.8,261.9 640.8,261.5 642.7,261.1 644.7,260.8 646.7,260.4 648.6,260.0 650.6,259.7 652.6,259.3 654.5,259.0 656.5,258.7 658.5,258.4 660.4,258.0 662.4,257.7 664.4,257.4 666.4,257.1 668.3,256.8 670.3,256.6 672.3,256.3 674.3,256.0 676.2,255.7 678.2,255.5 680.2,255.2 682.2,255.0 684.2,254.7 686.1,254.5 688.1,254.3 690.1,254.0 692.1,253.8 694.1,253.6 696.1,253.4 698.1,253.2 700.0,253.0 702.0,252.8 704.0,252.6 706.0,252.5 708.0,252.3 710.0,252.1 712.0,252.0 714.0,251.8 716.0,251.7 718.0,251.5 720.0,251.4 721.9,251.3 723.9,251.1 725.9,251.0 727.9,250.9 729.9,250.8 731.9,250.7 733.9,250.6 735.9,250.5 737.9,250.4 739.9,250.3 741.9,250.2 743.9,250.1 745.9,250.1 747.9,250.0 749.9,249.9 751.9,249.9 753.9,249.8 755.9,249.8 757.9,249.8 759.9,249.7 762.0,249.7 764.0,249.7 766.0,249.6 768.0,249.6 770.0,249.6 772.0,249.6 774.0,249.6 776.0,249.6 778.0,249.6 780.0,249.6 782.0,249.6 784.0,249.6 786.0,249.7 788.1,249.7 790.1,249.7 792.1,249.8 794.1,249.8 796.1,249.8 798.1,249.9 800.1,249.9 802.1,250.0 804.1,250.0 806.1,250.1 808.2,250.2 810.2,250.2 812.2,250.3 814.2,250.4 816.2,250.5 818.2,250.6 820.2,250.7 822.2,250.8 824.3,250.9 826.3,251.0 828.3,251.1 830.3,251.2 832.3,251.3 834.3,251.4 836.3,251.5 838.3,251.6 840.4,251.8 842.4,251.9 844.4,252.0 846.4,252.2 848.4,252.3 850.4,252.4 852.4,252.6 854.4,252.7 856.5,252.9 858.5,253.0 860.5,253.2 862.5,253.4 864.5,253.5 866.5,253.7 868.5,253.9 870.5,254.0 872.6,254.2 874.6,254.4 876.6,254.6 878.6,254.7 880.6,254.9 882.6,255.1 884.6,255.3 886.6,255.5 888.6,255.7 890.6,255.9 892.7,256.1 894.7,256.3 896.7,256.5 898.7,256.7 900.7,256.9 902.7,257.1 904.7,257.4 906.7,257.6 908.7,257.8 910.7,258.0 912.7,258.2 914.7,258.5 916.7,258.7 918.8,258.9 920.8,259.2 922.8,259.4 924.8,259.6 926.8,259.9 928.8,260.1 930.8,260.3 932.8,260.6 934.8,260.8 936.8,261.1 938.8,261.3 940.8,261.6 942.8,261.8 944.8,262.1 946.8,262.3 948.8,262.6 950.8,262.9 952.8,263.1 954.8,263.4 956.8,263.6 958.8,263.9 960.8,264.2 962.7,264.4 964.7,264.7 966.7,265.0 968.7,265.2 970.7,265.5 972.7,265.8 974.7,266.1 976.7,266.3 978.7,266.6 980.7,266.9 982.7,267.2 984.6,267.4 986.6,267.7 988.6,268.0 990.6,268.3 992.6,268.5 994.6,268.8 996.5,269.1 998.5,269.4 1000.5,269.7 1002.5,270.0 1004.5,270.2 1006.4,270.5 1008.4,270.8 1010.4,271.1 1012.4,271.4 1014.3,271.7 1016.3,272.0 1018.3,272.2 1020.3,272.5 1022.2,272.8 1024.2,273.1 1026.2,273.4 1028.1,273.7 1030.1,274.0 1032.1,274.3 1034.0,274.6 1036.0,274.8 1038.0,275.1"/><path d="M544.2,359.2L545.8,358.0 547.5,356.9 549.2,355.7 550.8,354.6 552.5,353.4 554.2,352.3 555.8,351.2 557.5,350.1 559.2,349.0 560.9,347.9 562.6,346.8 564.3,345.7 566.0,344.6 567.7,343.6 569.4,342.5 571.2,341.5 572.9,340.4 574.6,339.4 576.4,338.4 578.1,337.4 579.9,336.4 581.6,335.4 583.4,334.4 585.1,333.4 586.9,332.4 588.7,331.5 590.4,330.5 592.2,329.6 594.0,328.6 595.8,327.7 597.6,326.8 599.4,325.9 601.2,325.0 603.0,324.1 604.8,323.2 606.6,322.3 608.4,321.5 610.3,320.6 612.1,319.8 613.9,318.9 615.7,318.1 617.6,317.3 619.4,316.5 621.3,315.7 623.1,314.9 625.0,314.1 626.8,313.4 628.7,312.6 630.6,311.9 632.4,311.1 634.3,310.4 636.2,309.7 638.1,309.0 640.0,308.3 641.8,307.6 643.7,306.9 645.6,306.3 647.5,305.6 649.4,305.0 651.3,304.3 653.2,303.7 655.2,303.1 657.1,302.5 659.0,301.9 660.9,301.3 662.8,300.8 664.8,300.2 666.7,299.6 668.6,299.1 670.6,298.6 672.5,298.1 674.4,297.6 676.4,297.1 678.3,296.6 680.3,296.1 682.2,295.6 684.2,295.2 686.2,294.7 688.1,294.3 690.1,293.9 692.0,293.4 694.0,293.0 696.0,292.6 698.0,292.2 699.9,291.9 701.9,291.5 703.9,291.1 705.9,290.8 707.9,290.4 709.8,290.1 711.8,289.8 713.8,289.5 715.8,289.2 717.8,288.9 719.8,288.6 721.8,288.3 723.8,288.1 725.8,287.8 727.8,287.6 729.8,287.3 731.8,287.1 733.8,286.9 735.8,286.6 737.8,286.4 739.8,286.2 741.8,286.1 743.8,285.9 745.8,285.7 747.8,285.5 749.8,285.4 751.9,285.2 753.9,285.1 755.9,285.0 757.9,284.9 759.9,284.7 761.9,284.6 763.9,284.5 765.9,284.5 768.0,284.4 770.0,284.3 772.0,284.2 774.0,284.2 776.0,284.1 778.0,284.1 780.1,284.0 782.1,284.0 784.1,284.0 786.1,284.0 788.1,284.0 790.1,284.0 792.2,284.0 794.2,284.0 796.2,284.0 798.2,284.1 800.2,284.1 802.2,284.1 804.2,284.2 806.3,284.3 808.3,284.3 810.3,284.4 812.3,284.5 814.3,284.6 816.3,284.7 818.3,284.8 820.3,284.9 822.4,285.0 824.4,285.1 826.4,285.2 828.4,285.4 830.4,285.5 832.4,285.7 834.4,285.8 836.4,286.0 838.4,286.1 840.4,286.3 842.4,286.5 844.4,286.7 846.4,286.9 848.5,287.1 850.5,287.3 852.5,287.5 854.5,287.7 856.5,288.0 858.5,288.2 860.5,288.4 862.5,288.7 864.5,288.9 866.5,289.2 868.5,289.4 870.4,289.7 872.4,290.0 874.4,290.3 876.4,290.6 878.4,290.8 880.4,291.1 882.4,291.4 884.4,291.8 886.4,292.1 888.4,292.4 890.4,292.7 892.3,293.1 894.3,293.4 896.3,293.7 898.3,294.1 900.3,294.5 902.3,294.8 904.2,295.2 906.2,295.6 908.2,295.9 910.2,296.3 912.1,296.7 914.1,297.1 916.1,297.5 918.1,297.9 920.0,298.3 922.0,298.7 924.0,299.1 925.9,299.5 927.9,300.0 929.9,300.4 931.8,300.8 933.8,301.3 935.8,301.7 937.7,302.1 939.7,302.6 941.7,303.0 943.6,303.5 945.6,303.9 947.5,304.4 949.5,304.8 951.5,305.3 953.4,305.7 955.4,306.2 957.3,306.6 959.3,307.1 961.3,307.5 963.2,308.0 965.2,308.5 967.1,308.9 969.1,309.4 971.1,309.8 973.0,310.3 975.0,310.7 976.9,311.2 978.9,311.6 980.9,312.1 982.8,312.6 984.8,313.0 986.8,313.5 988.7,313.9 990.7,314.3 992.6,314.8 994.6,315.2 996.6,315.7 998.5,316.1 1000.5,316.5 1002.5,317.0 1004.4,317.4 1006.4,317.8 1008.4,318.2 1010.3,318.6 1012.3,319.0 1014.3,319.5 1016.2,319.9 1018.2,320.3 1020.2,320.6 1022.2,321.0 1024.1,321.4 1026.1,321.8 1028.1,322.2 1030.1,322.5 1032.0,322.9 1034.0,323.2 1036.0,323.6 1038.0,323.9"/><path d="M544.2,378.0L546.0,377.1 547.9,376.3 549.7,375.4 551.6,374.6 553.4,373.8 555.3,373.0 557.2,372.2 559.0,371.4 560.9,370.6 562.8,369.8 564.7,369.1 566.5,368.3 568.4,367.6 570.3,366.8 572.2,366.1 574.1,365.4 576.0,364.7 577.9,363.9 579.8,363.2 581.7,362.5 583.5,361.9 585.4,361.2 587.4,360.5 589.3,359.8 591.2,359.2 593.1,358.5 595.0,357.9 596.9,357.3 598.8,356.7 600.7,356.0 602.6,355.4 604.6,354.8 606.5,354.2 608.4,353.7 610.3,353.1 612.2,352.5 614.2,352.0 616.1,351.4 618.0,350.9 620.0,350.3 621.9,349.8 623.8,349.3 625.8,348.7 627.7,348.2 629.7,347.7 631.6,347.2 633.5,346.8 635.5,346.3 637.4,345.8 639.4,345.3 641.3,344.9 643.3,344.4 645.2,344.0 647.2,343.6 649.1,343.1 651.1,342.7 653.1,342.3 655.0,341.9 657.0,341.5 658.9,341.1 660.9,340.7 662.9,340.3 664.8,340.0 666.8,339.6 668.8,339.3 670.8,338.9 672.7,338.6 674.7,338.2 676.7,337.9 678.6,337.6 680.6,337.3 682.6,337.0 684.6,336.7 686.6,336.4 688.5,336.1 690.5,335.8 692.5,335.5 694.5,335.3 696.5,335.0 698.5,334.8 700.4,334.5 702.4,334.3 704.4,334.0 706.4,333.8 708.4,333.6 710.4,333.4 712.4,333.2 714.4,333.0 716.4,332.8 718.4,332.6 720.4,332.4 722.4,332.2 724.4,332.1 726.4,331.9 728.4,331.8 730.4,331.6 732.4,331.5 734.4,331.3 736.4,331.2 738.4,331.1 740.4,331.0 742.4,330.9 744.4,330.8 746.4,330.7 748.4,330.6 750.4,330.5 752.4,330.4 754.4,330.3 756.4,330.3 758.4,330.2 760.4,330.2 762.4,330.1 764.5,330.1 766.5,330.0 768.5,330.0 770.5,330.0 772.5,329.9 774.5,329.9 776.5,329.9 778.5,329.9 780.5,329.9 782.6,329.9 784.6,330.0 786.6,330.0 788.6,330.0 790.6,330.0 792.6,330.1 794.6,330.1 796.6,330.2 798.7,330.2 800.7,330.3 802.7,330.4 804.7,330.4 806.7,330.5 808.7,330.6 810.7,330.7 812.8,330.8 814.8,330.9 816.8,331.0 818.8,331.1 820.8,331.2 822.8,331.3 824.8,331.5 826.9,331.6 828.9,331.7 830.9,331.9 832.9,332.0 834.9,332.2 836.9,332.4 838.9,332.5 840.9,332.7 843.0,332.9 845.0,333.0 847.0,333.2 849.0,333.4 851.0,333.6 853.0,333.8 855.0,334.0 857.0,334.2 859.0,334.4 861.1,334.7 863.1,334.9 865.1,335.1 867.1,335.4 869.1,335.6 871.1,335.8 873.1,336.1 875.1,336.4 877.1,336.6 879.1,336.9 881.1,337.1 883.1,337.4 885.1,337.7 887.1,338.0 889.1,338.3 891.1,338.6 893.1,338.9 895.1,339.2 897.1,339.5 899.1,339.8 901.1,340.1 903.1,340.4 905.1,340.7 907.1,341.1 909.1,341.4 911.1,341.7 913.1,342.1 915.1,342.4 917.1,342.8 919.1,343.1 921.0,343.5 923.0,343.9 925.0,344.2 927.0,344.6 929.0,345.0 931.0,345.4 933.0,345.8 934.9,346.1 936.9,346.5 938.9,346.9 940.9,347.3 942.8,347.7 944.8,348.2 946.8,348.6 948.8,349.0 950.7,349.4 952.7,349.8 954.7,350.3 956.7,350.7 958.6,351.1 960.6,351.6 962.6,352.0 964.5,352.5 966.5,352.9 968.4,353.4 970.4,353.9 972.4,354.3 974.3,354.8 976.3,355.3 978.2,355.7 980.2,356.2 982.1,356.7 984.1,357.2 986.0,357.7 988.0,358.2 989.9,358.7 991.8,359.2 993.8,359.7 995.7,360.2 997.7,360.7 999.6,361.2 1001.5,361.7 1003.5,362.3 1005.4,362.8 1007.3,363.3 1009.3,363.9 1011.2,364.4 1013.1,364.9 1015.0,365.5 1017.0,366.0 1018.9,366.6 1020.8,367.1 1022.7,367.7 1024.6,368.2 1026.5,368.8 1028.4,369.4 1030.3,369.9 1032.3,370.5 1034.2,371.1 1036.1,371.7 1038.0,372.2"/><path d="M544.2,460.2L546.0,459.4 547.9,458.6 549.7,457.8 551.6,457.1 553.5,456.3 555.3,455.5 557.2,454.8 559.1,454.0 560.9,453.3 562.8,452.6 564.7,451.8 566.5,451.1 568.4,450.4 570.3,449.7 572.2,449.0 574.1,448.3 576.0,447.6 577.8,446.9 579.7,446.2 581.6,445.5 583.5,444.8 585.4,444.2 587.3,443.5 589.2,442.8 591.1,442.2 593.0,441.5 594.9,440.9 596.8,440.3 598.7,439.6 600.6,439.0 602.5,438.4 604.5,437.8 606.4,437.2 608.3,436.6 610.2,436.0 612.1,435.4 614.1,434.8 616.0,434.2 617.9,433.6 619.8,433.0 621.8,432.5 623.7,431.9 625.6,431.4 627.5,430.8 629.5,430.3 631.4,429.7 633.4,429.2 635.3,428.7 637.2,428.1 639.2,427.6 641.1,427.1 643.1,426.6 645.0,426.1 647.0,425.6 648.9,425.1 650.9,424.6 652.8,424.2 654.8,423.7 656.7,423.2 658.7,422.8 660.6,422.3 662.6,421.8 664.6,421.4 666.5,421.0 668.5,420.5 670.4,420.1 672.4,419.7 674.4,419.3 676.3,418.8 678.3,418.4 680.3,418.0 682.2,417.6 684.2,417.2 686.2,416.9 688.2,416.5 690.1,416.1 692.1,415.7 694.1,415.4 696.1,415.0 698.1,414.7 700.0,414.3 702.0,414.0 704.0,413.6 706.0,413.3 708.0,413.0 709.9,412.7 711.9,412.3 713.9,412.0 715.9,411.7 717.9,411.4 719.9,411.1 721.9,410.9 723.9,410.6 725.9,410.3 727.9,410.0 729.8,409.8 731.8,409.5 733.8,409.2 735.8,409.0 737.8,408.8 739.8,408.5 741.8,408.3 743.8,408.1 745.8,407.8 747.8,407.6 749.8,407.4 751.8,407.2 753.8,407.0 755.8,406.8 757.8,406.6 759.8,406.4 761.8,406.3 763.8,406.1 765.8,405.9 767.8,405.8 769.8,405.6 771.8,405.5 773.9,405.3 775.9,405.2 777.9,405.0 779.9,404.9 781.9,404.8 783.9,404.7 785.9,404.6 787.9,404.5 789.9,404.4 791.9,404.3 793.9,404.2 795.9,404.1 797.9,404.0 800.0,404.0 802.0,403.9 804.0,403.8 806.0,403.8 808.0,403.7 810.0,403.7 812.0,403.6 814.0,403.6 816.0,403.6 818.1,403.5 820.1,403.5 822.1,403.5 824.1,403.5 826.1,403.5 828.1,403.5 830.1,403.5 832.1,403.5 834.1,403.6 836.2,403.6 838.2,403.6 840.2,403.7 842.2,403.7 844.2,403.8 846.2,403.8 848.2,403.9 850.2,403.9 852.2,404.0 854.2,404.1 856.3,404.2 858.3,404.2 860.3,404.3 862.3,404.4 864.3,404.5 866.3,404.7 868.3,404.8 870.3,404.9 872.3,405.0 874.3,405.1 876.3,405.3 878.3,405.4 880.3,405.6 882.3,405.7 884.3,405.9 886.3,406.1 888.4,406.2 890.4,406.4 892.4,406.6 894.4,406.8 896.4,407.0 898.4,407.2 900.4,407.4 902.4,407.6 904.4,407.8 906.4,408.0 908.4,408.2 910.4,408.5 912.3,408.7 914.3,408.9 916.3,409.2 918.3,409.4 920.3,409.7 922.3,410.0 924.3,410.2 926.3,410.5 928.3,410.8 930.3,411.1 932.3,411.4 934.3,411.7 936.2,412.0 938.2,412.3 940.2,412.6 942.2,412.9 944.2,413.2 946.2,413.6 948.2,413.9 950.1,414.3 952.1,414.6 954.1,415.0 956.1,415.3 958.0,415.7 960.0,416.0 962.0,416.4 964.0,416.8 965.9,417.2 967.9,417.6 969.9,418.0 971.9,418.4 973.8,418.8 975.8,419.2 977.7,419.6 979.7,420.0 981.7,420.5 983.6,420.9 985.6,421.4 987.6,421.8 989.5,422.3 991.5,422.7 993.4,423.2 995.4,423.6 997.3,424.1 999.3,424.6 1001.2,425.1 1003.2,425.6 1005.1,426.1 1007.1,426.6 1009.0,427.1 1011.0,427.6 1012.9,428.1 1014.8,428.7 1016.8,429.2 1018.7,429.7 1020.7,430.3 1022.6,430.8 1024.5,431.4 1026.5,431.9 1028.4,432.5 1030.3,433.1 1032.2,433.6 1034.2,434.2 1036.1,434.8 1038.0,435.4"/><path d="M544.1,502.4L545.9,501.3 547.6,500.2 549.4,499.2 551.1,498.1 552.9,497.1 554.6,496.1 556.4,495.1 558.2,494.1 560.0,493.2 561.8,492.3 563.6,491.3 565.4,490.4 567.2,489.6 569.0,488.7 570.8,487.9 572.6,487.0 574.5,486.2 576.3,485.4 578.1,484.7 580.0,483.9 581.8,483.2 583.7,482.4 585.6,481.7 587.4,481.0 589.3,480.3 591.2,479.7 593.1,479.0 595.0,478.4 596.9,477.8 598.7,477.2 600.6,476.6 602.6,476.0 604.5,475.4 606.4,474.9 608.3,474.4 610.2,473.8 612.1,473.3 614.1,472.8 616.0,472.4 617.9,471.9 619.9,471.4 621.8,471.0 623.8,470.6 625.7,470.1 627.7,469.7 629.6,469.3 631.6,468.9 633.5,468.6 635.5,468.2 637.5,467.8 639.4,467.5 641.4,467.2 643.4,466.9 645.4,466.5 647.3,466.2 649.3,465.9 651.3,465.7 653.3,465.4 655.3,465.1 657.3,464.9 659.2,464.6 661.2,464.4 663.2,464.2 665.2,464.0 667.2,463.7 669.2,463.5 671.2,463.4 673.2,463.2 675.2,463.0 677.2,462.8 679.2,462.7 681.3,462.5 683.3,462.4 685.3,462.2 687.3,462.1 689.3,462.0 691.3,461.9 693.3,461.8 695.3,461.7 697.4,461.6 699.4,461.5 701.4,461.4 703.4,461.3 705.4,461.3 707.5,461.2 709.5,461.1 711.5,461.1 713.5,461.0 715.5,461.0 717.6,461.0 719.6,460.9 721.6,460.9 723.6,460.9 725.7,460.9 727.7,460.9 729.7,460.9 731.7,460.9 733.8,460.9 735.8,460.9 737.8,460.9 739.8,460.9 741.9,460.9 743.9,461.0 745.9,461.0 747.9,461.0 750.0,461.1 752.0,461.1 754.0,461.1 756.0,461.2 758.1,461.2 760.1,461.3 762.1,461.3 764.1,461.4 766.1,461.5 768.1,461.5 770.2,461.6 772.2,461.7 774.2,461.7 776.2,461.8 778.2,461.9 780.2,462.0 782.3,462.1 784.3,462.1 786.3,462.2 788.3,462.3 790.3,462.4 792.3,462.5 794.3,462.6 796.4,462.7 798.4,462.8 800.4,463.0 802.4,463.1 804.4,463.2 806.4,463.3 808.4,463.4 810.4,463.5 812.4,463.7 814.5,463.8 816.5,463.9 818.5,464.1 820.5,464.2 822.5,464.3 824.5,464.5 826.5,464.6 828.5,464.8 830.5,464.9 832.5,465.1 834.5,465.2 836.5,465.4 838.5,465.5 840.5,465.7 842.5,465.9 844.5,466.0 846.5,466.2 848.5,466.4 850.5,466.6 852.5,466.7 854.5,466.9 856.5,467.1 858.6,467.3 860.6,467.5 862.6,467.6 864.6,467.8 866.6,468.0 868.6,468.2 870.6,468.4 872.6,468.6 874.6,468.8 876.5,469.0 878.5,469.2 880.5,469.4 882.5,469.6 884.5,469.8 886.5,470.0 888.5,470.3 890.5,470.5 892.5,470.7 894.5,470.9 896.5,471.1 898.5,471.4 900.5,471.6 902.5,471.8 904.5,472.0 906.5,472.3 908.5,472.5 910.5,472.7 912.5,473.0 914.5,473.2 916.5,473.4 918.5,473.7 920.5,473.9 922.5,474.2 924.5,474.4 926.4,474.7 928.4,474.9 930.4,475.2 932.4,475.4 934.4,475.7 936.4,475.9 938.4,476.2 940.4,476.4 942.4,476.7 944.4,477.0 946.4,477.2 948.4,477.5 950.4,477.7 952.4,478.0 954.3,478.3 956.3,478.6 958.3,478.8 960.3,479.1 962.3,479.4 964.3,479.6 966.3,479.9 968.3,480.2 970.3,480.5 972.3,480.8 974.3,481.0 976.3,481.3 978.2,481.6 980.2,481.9 982.2,482.2 984.2,482.4 986.2,482.7 988.2,483.0 990.2,483.3 992.2,483.6 994.2,483.9 996.2,484.2 998.2,484.5 1000.2,484.8 1002.1,485.1 1004.1,485.4 1006.1,485.7 1008.1,486.0 1010.1,486.3 1012.1,486.6 1014.1,486.9 1016.1,487.2 1018.1,487.5 1020.1,487.8 1022.1,488.1 1024.1,488.4 1026.0,488.7 1028.0,489.0 1030.0,489.3 1032.0,489.6 1034.0,489.9 1036.0,490.2 1038.0,490.5"/><path d="M544.2,702.0L545.3,700.3 546.5,698.7 547.7,697.0 548.9,695.4 550.1,693.8 551.4,692.2 552.6,690.6 553.9,689.0 555.2,687.5 556.4,685.9 557.7,684.4 559.1,682.9 560.4,681.4 561.7,679.9 563.1,678.4 564.4,677.0 565.8,675.5 567.2,674.1 568.6,672.7 570.0,671.2 571.4,669.8 572.8,668.5 574.3,667.1 575.7,665.7 577.2,664.4 578.7,663.0 580.2,661.7 581.6,660.4 583.1,659.1 584.7,657.8 586.2,656.5 587.7,655.2 589.2,654.0 590.8,652.7 592.3,651.5 593.9,650.2 595.5,649.0 597.1,647.8 598.7,646.6 600.3,645.4 601.9,644.2 603.5,643.0 605.1,641.8 606.7,640.7 608.4,639.5 610.0,638.4 611.6,637.2 613.3,636.1 615.0,635.0 616.6,633.9 618.3,632.8 620.0,631.7 621.6,630.6 623.3,629.5 625.0,628.4 626.7,627.3 628.4,626.3 630.1,625.2 631.9,624.1 633.6,623.1 635.3,622.1 637.0,621.0 638.7,620.0 640.5,619.0 642.2,617.9 644.0,616.9 645.7,615.9 647.4,614.9 649.2,613.9 650.9,612.9 652.7,611.9 654.5,610.9 656.2,610.0 658.0,609.0 659.8,608.0 661.5,607.1 663.3,606.1 665.1,605.2 666.9,604.2 668.7,603.3 670.5,602.4 672.3,601.4 674.1,600.5 675.9,599.6 677.7,598.7 679.5,597.8 681.3,596.9 683.1,596.0 684.9,595.2 686.7,594.3 688.5,593.4 690.4,592.6 692.2,591.7 694.0,590.9 695.8,590.0 697.7,589.2 699.5,588.4 701.4,587.5 703.2,586.7 705.1,585.9 706.9,585.1 708.8,584.3 710.6,583.6 712.5,582.8 714.3,582.0 716.2,581.3 718.1,580.5 719.9,579.8 721.8,579.0 723.7,578.3 725.6,577.6 727.4,576.9 729.3,576.1 731.2,575.4 733.1,574.8 735.0,574.1 736.9,573.4 738.8,572.7 740.7,572.1 742.6,571.4 744.5,570.8 746.4,570.1 748.3,569.5 750.2,568.9 752.1,568.3 754.0,567.7 755.9,567.1 757.8,566.5 759.7,565.9 761.7,565.4 763.6,564.8 765.5,564.3 767.4,563.7 769.4,563.2 771.3,562.7 773.2,562.2 775.2,561.6 777.1,561.1 779.1,560.6 781.0,560.2 782.9,559.7 784.9,559.2 786.8,558.8 788.8,558.3 790.7,557.9 792.7,557.4 794.6,557.0 796.6,556.6 798.5,556.2 800.5,555.7 802.5,555.4 804.4,555.0 806.4,554.6 808.4,554.2 810.3,553.8 812.3,553.5 814.3,553.1 816.2,552.8 818.2,552.4 820.2,552.1 822.2,551.8 824.1,551.5 826.1,551.2 828.1,550.9 830.1,550.6 832.1,550.3 834.0,550.0 836.0,549.7 838.0,549.5 840.0,549.2 842.0,549.0 844.0,548.7 846.0,548.5 847.9,548.3 849.9,548.0 851.9,547.8 853.9,547.6 855.9,547.4 857.9,547.2 859.9,547.0 861.9,546.9 863.9,546.7 865.9,546.5 867.9,546.4 869.9,546.2 871.9,546.1 873.9,545.9 875.9,545.8 877.9,545.7 879.9,545.6 881.9,545.4 883.9,545.3 885.9,545.2 887.9,545.2 889.9,545.1 892.0,545.0 894.0,544.9 896.0,544.9 898.0,544.8 900.0,544.7 902.0,544.7 904.0,544.7 906.0,544.6 908.0,544.6 910.0,544.6 912.0,544.6 914.1,544.5 916.1,544.5 918.1,544.6 920.1,544.6 922.1,544.6 924.1,544.6 926.1,544.6 928.1,544.7 930.1,544.7 932.1,544.7 934.2,544.8 936.2,544.9 938.2,544.9 940.2,545.0 942.2,545.1 944.2,545.1 946.2,545.2 948.2,545.3 950.2,545.4 952.2,545.5 954.3,545.6 956.3,545.7 958.3,545.9 960.3,546.0 962.3,546.1 964.3,546.3 966.3,546.4 968.3,546.6 970.3,546.7 972.3,546.9 974.3,547.0 976.3,547.2 978.3,547.4 980.3,547.6 982.3,547.7 984.3,547.9 986.3,548.1 988.3,548.3 990.3,548.5 992.3,548.7 994.3,549.0 996.3,549.2 998.3,549.4 1000.3,549.6 1002.3,549.9 1004.3,550.1 1006.3,550.4 1008.3,550.6 1010.3,550.9 1012.3,551.1 1014.2,551.4 1016.2,551.7 1018.2,551.9 1020.2,552.2 1022.2,552.5 1024.2,552.8 1026.1,553.1 1028.1,553.4 1030.1,553.7 1032.1,554.0 1034.0,554.3 1036.0,554.6 1038.0,554.9"/><path d="M544.2,736.9L545.4,735.2 546.6,733.6 547.8,732.0 549.1,730.4 550.4,728.8 551.7,727.3 553.0,725.8 554.4,724.3 555.7,722.8 557.1,721.4 558.5,720.0 559.9,718.6 561.4,717.2 562.8,715.9 564.3,714.5 565.8,713.2 567.3,711.9 568.9,710.7 570.4,709.4 571.9,708.2 573.5,706.9 575.1,705.7 576.7,704.5 578.3,703.4 579.9,702.2 581.5,701.0 583.2,699.9 584.8,698.8 586.5,697.6 588.2,696.5 589.8,695.4 591.5,694.4 593.2,693.3 594.9,692.2 596.6,691.1 598.3,690.1 600.1,689.0 601.8,688.0 603.5,686.9 605.2,685.9 607.0,684.8 608.7,683.8 610.4,682.8 612.2,681.8 613.9,680.8 615.7,679.8 617.5,678.8 619.2,677.8 621.0,676.8 622.8,675.8 624.5,674.8 626.3,673.9 628.1,672.9 629.9,671.9 631.7,671.0 633.5,670.1 635.3,669.1 637.1,668.2 638.9,667.3 640.7,666.4 642.5,665.5 644.3,664.6 646.1,663.7 647.9,662.8 649.8,661.9 651.6,661.1 653.4,660.2 655.2,659.4 657.1,658.5 658.9,657.7 660.8,656.9 662.6,656.1 664.4,655.3 666.3,654.5 668.1,653.7 670.0,652.9 671.8,652.1 673.7,651.4 675.6,650.6 677.4,649.9 679.3,649.1 681.1,648.4 683.0,647.7 684.9,646.9 686.8,646.2 688.6,645.5 690.5,644.8 692.4,644.1 694.3,643.5 696.1,642.8 698.0,642.1 699.9,641.5 701.8,640.8 703.7,640.2 705.6,639.5 707.5,638.9 709.4,638.3 711.3,637.7 713.2,637.1 715.1,636.5 717.0,635.9 718.9,635.3 720.8,634.7 722.7,634.1 724.7,633.6 726.6,633.0 728.5,632.4 730.4,631.9 732.3,631.3 734.3,630.8 736.2,630.3 738.1,629.7 740.1,629.2 742.0,628.7 743.9,628.2 745.9,627.7 747.8,627.2 749.7,626.7 751.7,626.2 753.6,625.7 755.6,625.2 757.5,624.8 759.5,624.3 761.4,623.8 763.4,623.4 765.3,622.9 767.3,622.5 769.2,622.0 771.2,621.6 773.2,621.2 775.1,620.7 777.1,620.3 779.1,619.9 781.0,619.5 783.0,619.1 785.0,618.6 786.9,618.2 788.9,617.8 790.9,617.5 792.9,617.1 794.8,616.7 796.8,616.3 798.8,615.9 800.8,615.6 802.8,615.2 804.8,614.8 806.7,614.5 808.7,614.1 810.7,613.8 812.7,613.5 814.7,613.1 816.7,612.8 818.7,612.5 820.7,612.2 822.7,611.8 824.7,611.5 826.7,611.2 828.7,611.0 830.7,610.7 832.7,610.4 834.7,610.1 836.7,609.8 838.7,609.6 840.7,609.3 842.7,609.1 844.7,608.8 846.7,608.6 848.7,608.4 850.7,608.2 852.7,607.9 854.7,607.7 856.7,607.5 858.7,607.3 860.7,607.2 862.7,607.0 864.7,606.8 866.7,606.6 868.7,606.5 870.8,606.3 872.8,606.2 874.8,606.1 876.8,605.9 878.8,605.8 880.8,605.7 882.8,605.6 884.8,605.5 886.8,605.4 888.8,605.3 890.8,605.3 892.9,605.2 894.9,605.1 896.9,605.1 898.9,605.1 900.9,605.0 902.9,605.0 904.9,605.0 906.9,605.0 908.9,605.0 910.9,605.0 912.9,605.0 914.9,605.1 916.9,605.1 918.9,605.2 920.9,605.2 923.0,605.3 925.0,605.4 927.0,605.5 929.0,605.6 931.0,605.7 933.0,605.8 935.0,605.9 936.9,606.0 938.9,606.2 940.9,606.4 942.9,606.5 944.9,606.7 946.9,606.9 948.9,607.1 950.9,607.3 952.9,607.6 954.8,607.8 956.8,608.1 958.8,608.4 960.8,608.7 962.7,609.0 964.7,609.3 966.7,609.6 968.6,610.0 970.6,610.4 972.6,610.8 974.5,611.2 976.5,611.6 978.4,612.0 980.3,612.5 982.3,613.0 984.2,613.5 986.1,614.0 988.1,614.5 990.0,615.1 991.9,615.6 993.8,616.2 995.7,616.9 997.6,617.5 999.5,618.1 1001.4,618.8 1003.3,619.5 1005.2,620.2 1007.0,621.0 1008.9,621.7 1010.8,622.5 1012.6,623.3 1014.5,624.1 1016.3,624.9 1018.2,625.8 1020.0,626.6 1021.8,627.5 1023.7,628.4 1025.5,629.3 1027.3,630.2 1029.1,631.2 1030.9,632.1 1032.7,633.1 1034.5,634.1 1036.2,635.1 1038.0,636.1"/><path d="M544.2,889.8L544.6,887.8 545.1,885.8 545.7,883.9 546.4,882.0 547.2,880.2 548.1,878.5 549.0,876.8 550.1,875.1 551.2,873.4 552.3,871.8 553.5,870.3 554.8,868.7 556.1,867.2 557.4,865.7 558.8,864.3 560.2,862.8 561.6,861.4 563.1,860.0 564.6,858.7 566.0,857.3 567.5,855.9 569.0,854.6 570.5,853.3 572.1,852.0 573.6,850.7 575.1,849.4 576.7,848.1 578.2,846.9 579.8,845.6 581.4,844.4 583.0,843.1 584.6,841.9 586.1,840.7 587.8,839.5 589.4,838.3 591.0,837.1 592.6,836.0 594.2,834.8 595.9,833.7 597.5,832.5 599.2,831.4 600.8,830.3 602.5,829.2 604.2,828.0 605.9,826.9 607.5,825.9 609.2,824.8 610.9,823.7 612.6,822.6 614.3,821.5 616.0,820.5 617.7,819.4 619.4,818.4 621.2,817.3 622.9,816.3 624.6,815.3 626.3,814.2 628.1,813.2 629.8,812.2 631.6,811.2 633.3,810.2 635.0,809.2 636.8,808.1 638.5,807.1 640.3,806.1 642.0,805.1 643.8,804.2 645.6,803.2 647.3,802.2 649.1,801.2 650.8,800.2 652.6,799.2 654.4,798.2 656.1,797.3 657.9,796.3 659.7,795.3 661.5,794.4 663.2,793.4 665.0,792.5 666.8,791.5 668.6,790.6 670.4,789.6 672.2,788.7 674.0,787.8 675.7,786.8 677.5,785.9 679.3,785.0 681.1,784.1 682.9,783.2 684.7,782.3 686.5,781.4 688.4,780.5 690.2,779.6 692.0,778.8 693.8,777.9 695.6,777.0 697.4,776.2 699.3,775.3 701.1,774.5 702.9,773.7 704.7,772.8 706.6,772.0 708.4,771.2 710.2,770.4 712.1,769.6 713.9,768.8 715.8,768.1 717.6,767.3 719.5,766.5 721.3,765.8 723.2,765.1 725.0,764.3 726.9,763.6 728.7,762.9 730.6,762.2 732.5,761.5 734.3,760.8 736.2,760.1 738.1,759.4 740.0,758.7 741.8,758.0 743.7,757.4 745.6,756.7 747.5,756.1 749.4,755.4 751.3,754.8 753.2,754.1 755.1,753.5 757.0,752.9 758.9,752.2 760.8,751.6 762.7,751.0 764.6,750.4 766.5,749.8 768.4,749.2 770.3,748.5 772.2,747.9 774.1,747.3 776.0,746.7 778.0,746.1 779.9,745.5 781.8,745.0 783.7,744.4 785.7,743.8 787.6,743.2 789.5,742.6 791.5,742.0 793.4,741.5 795.4,740.9 797.3,740.3 799.2,739.8 801.2,739.2 803.1,738.7 805.1,738.1 807.0,737.6 809.0,737.1 810.9,736.5 812.9,736.0 814.8,735.5 816.8,734.9 818.8,734.4 820.7,733.9 822.7,733.4 824.6,732.9 826.6,732.4 828.6,731.9 830.5,731.5 832.5,731.0 834.5,730.5 836.4,730.0 838.4,729.6 840.4,729.1 842.4,728.7 844.3,728.3 846.3,727.8 848.3,727.4 850.3,727.0 852.2,726.6 854.2,726.2 856.2,725.8 858.2,725.4 860.2,725.0 862.2,724.6 864.1,724.3 866.1,723.9 868.1,723.6 870.1,723.2 872.1,722.9 874.1,722.6 876.1,722.3 878.0,722.0 880.0,721.7 882.0,721.4 884.0,721.1 886.0,720.8 888.0,720.5 890.0,720.3 892.0,720.1 894.0,719.8 896.0,719.6 898.0,719.4 899.9,719.2 901.9,719.0 903.9,718.8 905.9,718.6 907.9,718.5 909.9,718.3 911.9,718.2 913.9,718.0 915.9,717.9 917.9,717.8 919.9,717.7 921.9,717.6 923.9,717.5 925.8,717.5 927.8,717.4 929.8,717.4 931.8,717.3 933.8,717.3 935.8,717.3 937.8,717.3 939.8,717.3 941.8,717.4 943.8,717.4 945.7,717.5 947.7,717.5 949.7,717.6 951.7,717.7 953.7,717.8 955.7,717.9 957.7,718.1 959.6,718.2 961.6,718.4 963.6,718.5 965.6,718.7 967.6,718.9 969.6,719.1 971.5,719.4 973.5,719.6 975.5,719.9 977.5,720.1 979.4,720.4 981.4,720.7 983.4,721.0 985.3,721.4 987.3,721.7 989.3,722.1 991.3,722.4 993.2,722.8 995.2,723.2 997.1,723.7 999.1,724.1 1001.1,724.6 1003.0,725.0 1005.0,725.5 1006.9,726.0 1008.9,726.5 1010.9,727.1 1012.8,727.6 1014.8,728.2 1016.7,728.8 1018.6,729.4 1020.6,730.0 1022.5,730.6 1024.5,731.3 1026.4,731.9 1028.4,732.6 1030.3,733.3 1032.2,734.1 1034.2,734.8 1036.1,735.6 1038.0,736.3"/></g><defs><clipPath id="cl_y150" clipPathUnits="userSpaceOnUse"><path clip-rule="evenodd" d="M-200,-300H2000V300H-200Z M2.50,-13H24.90V15H2.50Z M34.30,-13H54.30V15H34.30Z"/></clipPath><clipPath id="cl_y100" clipPathUnits="userSpaceOnUse"><path clip-rule="evenodd" d="M-200,-300H2000V300H-200Z M2.50,-13H24.90V15H2.50Z M34.30,-13H54.30V15H34.30Z"/></clipPath><clipPath id="cl_y15" clipPathUnits="userSpaceOnUse"><path clip-rule="evenodd" d="M-200,-300H2000V300H-200Z M2.50,-13H24.90V15H2.50Z M34.30,-13H54.30V15H34.30Z"/></clipPath><clipPath id="cl_y10" clipPathUnits="userSpaceOnUse"><path clip-rule="evenodd" d="M-200,-300H2000V300H-200Z M2.50,-13H24.90V15H2.50Z M34.30,-13H54.30V15H34.30Z"/></clipPath><clipPath id="cl_y1_5" clipPathUnits="userSpaceOnUse"><path clip-rule="evenodd" d="M-200,-300H2000V300H-200Z M2.50,-13H24.90V15H2.50Z M34.30,-13H54.30V15H34.30Z"/></clipPath><clipPath id="cl_y1" clipPathUnits="userSpaceOnUse"><path clip-rule="evenodd" d="M-200,-300H2000V300H-200Z M2.50,-13H24.90V15H2.50Z M34.30,-13H54.30V15H34.30Z"/></clipPath><clipPath id="cl_x10" clipPathUnits="userSpaceOnUse"><path clip-rule="evenodd" d="M-200,-300H2000V300H-200Z M2.50,-13H24.90V15H2.50Z M34.30,-13H54.30V15H34.30Z"/></clipPath><clipPath id="cl_x100" clipPathUnits="userSpaceOnUse"><path clip-rule="evenodd" d="M-200,-300H2000V300H-200Z M2.50,-13H24.90V15H2.50Z M34.30,-13H54.30V15H34.30Z"/></clipPath><clipPath id="cl_x1013" clipPathUnits="userSpaceOnUse"><path clip-rule="evenodd" d="M-200,-300H2000V300H-200Z M2.50,-13H24.90V15H2.50Z M34.30,-13H54.30V15H34.30Z M95.65,-13H118.05V15H95.65Z M127.45,-13H147.45V15H127.45Z"/></clipPath><clipPath id="cl_c161" clipPathUnits="userSpaceOnUse"><path clip-rule="evenodd" d="M-200,-300H2000V300H-200Z M267.61,-13H290.01V15H267.61Z M299.41,-13H319.41V15H299.41Z M364.81,-13H387.21V15H364.81Z M396.61,-13H416.61V15H396.61Z"/></clipPath><clipPath id="cl_c131" clipPathUnits="userSpaceOnUse"><path clip-rule="evenodd" d="M-200,-300H2000V300H-200Z M267.48,-13H289.88V15H267.48Z M299.28,-13H319.28V15H299.28Z M364.62,-13H387.02V15H364.62Z M396.42,-13H416.42V15H396.42Z"/></clipPath><clipPath id="cl_c121" clipPathUnits="userSpaceOnUse"><path clip-rule="evenodd" d="M-200,-300H2000V300H-200Z M267.61,-13H290.01V15H267.61Z M299.41,-13H319.41V15H299.41Z M364.86,-13H387.26V15H364.86Z M396.66,-13H416.66V15H396.66Z"/></clipPath><clipPath id="cl_c111" clipPathUnits="userSpaceOnUse"><path clip-rule="evenodd" d="M-200,-300H2000V300H-200Z M267.55,-13H289.95V15H267.55Z M299.35,-13H331.09V15H299.35Z M340.49,-13H372.23V15H340.49Z M381.63,-13H401.63V15H381.63Z"/></clipPath><clipPath id="cl_c110" clipPathUnits="userSpaceOnUse"><path clip-rule="evenodd" d="M-200,-300H2000V300H-200Z M267.60,-13H290.00V15H267.60Z M299.40,-13H331.13V15H299.40Z M340.53,-13H360.53V15H340.53Z"/></clipPath><clipPath id="cl_c71" clipPathUnits="userSpaceOnUse"><path clip-rule="evenodd" d="M-200,-300H2000V300H-200Z M316.23,-13H338.63V15H316.23Z M348.03,-13H368.03V15H348.03Z"/></clipPath><clipPath id="cl_c61" clipPathUnits="userSpaceOnUse"><path clip-rule="evenodd" d="M-200,-300H2000V300H-200Z M316.17,-13H338.57V15H316.17Z M347.97,-13H367.97V15H347.97Z"/></clipPath></defs><g><text transform="matrix(0.35458 0.00000 -0.12778 0.31627 195.44 164.46)" letter-spacing="-9.0" stroke="#000" stroke-width="1.58" stroke-linejoin="round">600</text><text transform="matrix(0.33218 0.00000 -0.12778 0.31627 198.03 240.10)" letter-spacing="-9.0" stroke="#000" stroke-width="1.58" stroke-linejoin="round">400</text><text transform="matrix(0.34449 0.00000 -0.13204 0.32681 194.96 290.96)" letter-spacing="-9.0" stroke="#000" stroke-width="1.53" stroke-linejoin="round">300</text><text transform="matrix(0.34047 0.00000 -0.12763 0.31589 197.16 361.30)" letter-spacing="-9.0" stroke="#000" stroke-width="1.58" stroke-linejoin="round">200</text><text transform="matrix(0.29524 0.00000 -0.12763 0.31589 196.83 411.49)" letter-spacing="-9.0" stroke="#000" stroke-width="1.58" stroke-linejoin="round" clip-path="url(#cl_y150)">150</text><text transform="matrix(0.31526 0.00000 -0.12510 0.30963 196.80 484.25)" letter-spacing="-9.0" stroke="#000" stroke-width="1.61" stroke-linejoin="round" clip-path="url(#cl_y100)">100</text><text transform="matrix(0.35473 0.00000 -0.12827 0.31747 196.28 530.84)" letter-spacing="-9.0" stroke="#000" stroke-width="1.57" stroke-linejoin="round">80</text><text transform="matrix(0.36065 0.00000 -0.12016 0.29741 195.55 574.49)" letter-spacing="-9.0" stroke="#000" stroke-width="1.68" stroke-linejoin="round">60</text><text transform="matrix(0.33882 0.00000 -0.12414 0.30725 198.16 651.32)" letter-spacing="-9.0" stroke="#000" stroke-width="1.63" stroke-linejoin="round">40</text><text transform="matrix(0.34103 0.00000 -0.12510 0.30963 195.46 705.29)" letter-spacing="-9.0" stroke="#000" stroke-width="1.61" stroke-linejoin="round">30</text><text transform="matrix(0.35163 0.00000 -0.13069 0.32346 196.56 780.25)" letter-spacing="-9.0" stroke="#000" stroke-width="1.55" stroke-linejoin="round">20</text><text transform="matrix(0.26322 0.00000 -0.12765 0.31594 197.34 835.98)" letter-spacing="-9.0" stroke="#000" stroke-width="1.58" stroke-linejoin="round" clip-path="url(#cl_y15)">15</text><text transform="matrix(0.29881 0.00000 -0.12972 0.32107 196.78 905.63)" letter-spacing="-9.0" stroke="#000" stroke-width="1.56" stroke-linejoin="round" clip-path="url(#cl_y10)">10</text><text transform="matrix(0.31979 0.00000 -0.12091 0.29926 196.49 992.04)" letter-spacing="-9.0" stroke="#000" stroke-width="1.67" stroke-linejoin="round">6</text><text transform="matrix(0.17251 0.00000 -0.12338 0.33900 196.43 1078.26)" letter-spacing="-4.0" stroke="#fdfdfd" stroke-width="1.03">4</text><text transform="matrix(0.21069 0.00000 -0.12315 0.33835 195.98 1130.90)" letter-spacing="-4.0" stroke="#fdfdfd" stroke-width="1.77">3</text><text transform="matrix(0.26345 0.00000 -0.12315 0.33835 196.12 1207.53)" letter-spacing="-4.0" stroke="#fdfdfd" stroke-width="1.77">2</text><text transform="matrix(0.18633 0.00000 -0.12338 0.33899 197.52 1257.51)" letter-spacing="-4.0" stroke="#fdfdfd" stroke-width="1.77" clip-path="url(#cl_y1_5)">1.5</text><text transform="matrix(0.26807 0.00000 -0.12135 0.33341 195.97 1332.78)" letter-spacing="-4.0" stroke="#fdfdfd" stroke-width="1.65" clip-path="url(#cl_y1)">1</text><text transform="matrix(0.28889 0.00000 -0.11648 0.28829 245.08 1367.49)" letter-spacing="-9.0" stroke="#000" stroke-width="1.73" stroke-linejoin="round">6</text><text transform="matrix(0.30114 0.00000 -0.12763 0.31589 332.94 1367.49)" letter-spacing="-9.0" stroke="#000" stroke-width="1.58" stroke-linejoin="round" clip-path="url(#cl_x10)">10</text><text transform="matrix(0.33465 0.00000 -0.12649 0.31306 430.79 1367.44)" letter-spacing="-9.0" stroke="#000" stroke-width="1.60" stroke-linejoin="round">20</text><text transform="matrix(0.32184 0.00000 -0.12414 0.30725 535.04 1367.08)" letter-spacing="-9.0" stroke="#000" stroke-width="1.63" stroke-linejoin="round">40</text><text transform="matrix(0.34665 0.00000 -0.12414 0.30725 589.01 1367.08)" letter-spacing="-9.0" stroke="#000" stroke-width="1.63" stroke-linejoin="round">60</text><text transform="matrix(0.29681 0.00000 -0.12414 0.30725 669.88 1367.08)" letter-spacing="-9.0" stroke="#000" stroke-width="1.63" stroke-linejoin="round" clip-path="url(#cl_x100)">100</text><text transform="matrix(0.34376 0.00000 -0.12778 0.31627 755.51 1367.02)" letter-spacing="-9.0" stroke="#000" stroke-width="1.58" stroke-linejoin="round">200</text><text transform="matrix(0.31810 0.00000 -0.12778 0.31627 864.65 1367.10)" letter-spacing="-9.0" stroke="#000" stroke-width="1.58" stroke-linejoin="round">400</text><text transform="matrix(0.25788 0.00000 -0.12778 0.31627 1011.93 1367.02)" letter-spacing="-9.0" stroke="#000" stroke-width="1.58" stroke-linejoin="round" clip-path="url(#cl_x1013)">1013</text><text transform="matrix(0.30191 0.00000 -0.12140 0.30048 594.36 1403.09)" letter-spacing="-9.0" stroke="#000" stroke-width="1.66" stroke-linejoin="round">mbar</text><text transform="matrix(0.29336 0.00000 -0.13041 0.32279 354.82 214.09)" letter-spacing="-9.0" stroke="#000" stroke-width="1.55" stroke-linejoin="round">50 <tspan dx="21.2">Hz</tspan></text><text transform="matrix(0.00000 -0.28788 0.31134 0.12579 185.46 739.70)" letter-spacing="-9.0" stroke="#000" stroke-width="1.61" stroke-linejoin="round">m</text><text transform="matrix(0.00000 -0.27730 0.21798 0.07934 167.97 712.79)" letter-spacing="-4.0" stroke="#fdfdfd" stroke-width="2.06">3</text><text transform="matrix(0.00000 -0.39144 0.37059 0.27794 187.47 707.17)" letter-spacing="-9.0" stroke="#000" stroke-width="0.54" stroke-linejoin="round">/</text><text transform="matrix(0.00000 -0.28388 0.31404 0.12688 185.48 687.82)" letter-spacing="-9.0" stroke="#000" stroke-width="1.59" stroke-linejoin="round">h</text><text transform="matrix(0.23764 0.00000 -0.09506 0.26118 969.19 259.43)" letter-spacing="-7.0" stroke="#000" stroke-width="1.15" stroke-linejoin="round" clip-path="url(#cl_c161)">2BV2–161V</text><text transform="matrix(0.23669 0.00000 -0.09490 0.26073 959.98 302.06)" letter-spacing="-7.0" stroke="#000" stroke-width="1.15" stroke-linejoin="round" clip-path="url(#cl_c131)">2BV2–131V</text><text transform="matrix(0.23900 0.00000 -0.10204 0.28035 963.00 347.59)" letter-spacing="-7.0" stroke="#000" stroke-width="1.07" stroke-linejoin="round" clip-path="url(#cl_c121)">2BV2–121V</text><text transform="matrix(0.28303 0.00000 -0.11957 0.32852 798.76 381.51)" letter-spacing="-7.0" stroke="#000" stroke-width="0.91" stroke-linejoin="round" clip-path="url(#cl_c111)">2BV2–111V</text><text transform="matrix(0.28490 0.00000 -0.11183 0.30725 851.61 443.87)" letter-spacing="-7.0" stroke="#000" stroke-width="0.98" stroke-linejoin="round" clip-path="url(#cl_c110)">2BV2–110V</text><text transform="matrix(0.29209 0.00000 -0.12057 0.33127 868.87 525.39)" letter-spacing="-7.0" stroke="#000" stroke-width="0.91" stroke-linejoin="round" clip-path="url(#cl_c71)">2BV2–71V</text><text transform="matrix(0.30293 0.00000 -0.11686 0.32107 867.29 590.08)" letter-spacing="-7.0" stroke="#000" stroke-width="0.93" stroke-linejoin="round">2BV2–70V</text><text transform="matrix(0.29200 0.00000 -0.11497 0.31589 865.12 643.68)" letter-spacing="-7.0" stroke="#000" stroke-width="0.95" stroke-linejoin="round" clip-path="url(#cl_c61)">2BV2–61V</text><text transform="matrix(0.29939 0.00000 -0.11555 0.31747 883.23 761.66)" letter-spacing="-7.0" stroke="#000" stroke-width="0.94" stroke-linejoin="round">2BV2–60V</text></g></svg></body></html>
